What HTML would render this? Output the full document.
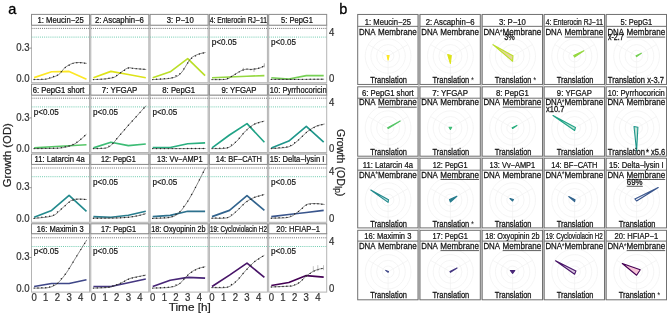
<!DOCTYPE html><html><head><meta charset="utf-8"><style>html,body{margin:0;padding:0;background:#fff;width:669px;height:317px;overflow:hidden}svg{display:block;will-change:transform}text{font-family:"Liberation Sans", sans-serif}</style></head><body>
<svg width="669" height="317" viewBox="0 0 669 317">
<rect width="669" height="317" fill="#fff"/>
<defs>
<clipPath id="ca0"><rect x="31.50" y="25.20" width="58.00" height="57.50"/></clipPath>
<clipPath id="sa0"><rect x="31.50" y="14.40" width="58.00" height="10.80"/></clipPath>
<clipPath id="ca1"><rect x="90.80" y="25.20" width="58.00" height="57.50"/></clipPath>
<clipPath id="sa1"><rect x="90.80" y="14.40" width="58.00" height="10.80"/></clipPath>
<clipPath id="ca2"><rect x="150.10" y="25.20" width="58.00" height="57.50"/></clipPath>
<clipPath id="sa2"><rect x="150.10" y="14.40" width="58.00" height="10.80"/></clipPath>
<clipPath id="ca3"><rect x="209.40" y="25.20" width="58.00" height="57.50"/></clipPath>
<clipPath id="sa3"><rect x="209.40" y="14.40" width="58.00" height="10.80"/></clipPath>
<clipPath id="ca4"><rect x="268.70" y="25.20" width="58.00" height="57.50"/></clipPath>
<clipPath id="sa4"><rect x="268.70" y="14.40" width="58.00" height="10.80"/></clipPath>
<clipPath id="ca5"><rect x="31.50" y="95.10" width="58.00" height="57.40"/></clipPath>
<clipPath id="sa5"><rect x="31.50" y="84.20" width="58.00" height="10.90"/></clipPath>
<clipPath id="ca6"><rect x="90.80" y="95.10" width="58.00" height="57.40"/></clipPath>
<clipPath id="sa6"><rect x="90.80" y="84.20" width="58.00" height="10.90"/></clipPath>
<clipPath id="ca7"><rect x="150.10" y="95.10" width="58.00" height="57.40"/></clipPath>
<clipPath id="sa7"><rect x="150.10" y="84.20" width="58.00" height="10.90"/></clipPath>
<clipPath id="ca8"><rect x="209.40" y="95.10" width="58.00" height="57.40"/></clipPath>
<clipPath id="sa8"><rect x="209.40" y="84.20" width="58.00" height="10.90"/></clipPath>
<clipPath id="ca9"><rect x="268.70" y="95.10" width="58.00" height="57.40"/></clipPath>
<clipPath id="sa9"><rect x="268.70" y="84.20" width="58.00" height="10.90"/></clipPath>
<clipPath id="ca10"><rect x="31.50" y="164.40" width="58.00" height="57.90"/></clipPath>
<clipPath id="sa10"><rect x="31.50" y="154.00" width="58.00" height="10.40"/></clipPath>
<clipPath id="ca11"><rect x="90.80" y="164.40" width="58.00" height="57.90"/></clipPath>
<clipPath id="sa11"><rect x="90.80" y="154.00" width="58.00" height="10.40"/></clipPath>
<clipPath id="ca12"><rect x="150.10" y="164.40" width="58.00" height="57.90"/></clipPath>
<clipPath id="sa12"><rect x="150.10" y="154.00" width="58.00" height="10.40"/></clipPath>
<clipPath id="ca13"><rect x="209.40" y="164.40" width="58.00" height="57.90"/></clipPath>
<clipPath id="sa13"><rect x="209.40" y="154.00" width="58.00" height="10.40"/></clipPath>
<clipPath id="ca14"><rect x="268.70" y="164.40" width="58.00" height="57.90"/></clipPath>
<clipPath id="sa14"><rect x="268.70" y="154.00" width="58.00" height="10.40"/></clipPath>
<clipPath id="ca15"><rect x="31.50" y="233.70" width="58.00" height="58.40"/></clipPath>
<clipPath id="sa15"><rect x="31.50" y="223.80" width="58.00" height="9.90"/></clipPath>
<clipPath id="ca16"><rect x="90.80" y="233.70" width="58.00" height="58.40"/></clipPath>
<clipPath id="sa16"><rect x="90.80" y="223.80" width="58.00" height="9.90"/></clipPath>
<clipPath id="ca17"><rect x="150.10" y="233.70" width="58.00" height="58.40"/></clipPath>
<clipPath id="sa17"><rect x="150.10" y="223.80" width="58.00" height="9.90"/></clipPath>
<clipPath id="ca18"><rect x="209.40" y="233.70" width="58.00" height="58.40"/></clipPath>
<clipPath id="sa18"><rect x="209.40" y="223.80" width="58.00" height="9.90"/></clipPath>
<clipPath id="ca19"><rect x="268.70" y="233.70" width="58.00" height="58.40"/></clipPath>
<clipPath id="sa19"><rect x="268.70" y="223.80" width="58.00" height="9.90"/></clipPath>
</defs>
<text x="8.2" y="14.2" font-size="14.5" fill="#000" stroke="#000" stroke-width="0.3">a</text>
<rect x="89.50" y="14.40" width="1.30" height="277.70" fill="#dadada"/>
<rect x="148.80" y="14.40" width="1.30" height="277.70" fill="#dadada"/>
<rect x="208.10" y="14.40" width="1.30" height="277.70" fill="#dadada"/>
<rect x="267.40" y="14.40" width="1.30" height="277.70" fill="#dadada"/>
<rect x="31.50" y="25.20" width="58.00" height="57.50" fill="#fff" stroke="#b4b4b4" stroke-width="1"/>
<rect x="31.50" y="14.40" width="58.00" height="10.80" fill="#fff" stroke="#8a8a8a" stroke-width="1"/>
<g clip-path="url(#sa0)"><text transform="translate(60.65,22.85) scale(1,1.15)" font-size="7.60" fill="#111" stroke="#111" stroke-width="0.2" text-anchor="middle" textLength="46.30" lengthAdjust="spacingAndGlyphs">1: Meucin−25</text></g>
<g clip-path="url(#ca0)"><line x1="31.50" y1="28.40" x2="89.50" y2="28.40" stroke="#444" stroke-width="0.8" stroke-dasharray="1 1.1"/><line x1="31.50" y1="37.10" x2="89.50" y2="37.10" stroke="#4cbf9c" stroke-width="0.8" stroke-dasharray="1 1.1"/><polyline points="34.10,77.60 51.60,71.70 69.10,71.40 86.50,79.30" fill="none" stroke="#FDE725" stroke-width="1.65" stroke-linejoin="round"/><path d="M34.10,79.50 C36.10,79.43 42.05,79.88 46.10,79.10 C50.15,78.32 55.25,76.72 58.40,74.80 C61.55,72.88 62.65,69.50 65.00,67.60 C67.35,65.70 70.15,64.25 72.50,63.40 C74.85,62.55 76.73,62.50 79.10,62.50 C81.47,62.50 85.43,63.25 86.70,63.40" fill="none" stroke="#3a3a3a" stroke-width="0.6"/><circle cx="34.10" cy="79.50" r="0.7" fill="#222"/><circle cx="37.99" cy="79.37" r="0.7" fill="#222"/><circle cx="41.88" cy="79.24" r="0.7" fill="#222"/><circle cx="45.77" cy="79.11" r="0.7" fill="#222"/><circle cx="49.66" cy="77.86" r="0.7" fill="#222"/><circle cx="53.55" cy="76.50" r="0.7" fill="#222"/><circle cx="57.44" cy="75.14" r="0.7" fill="#222"/><circle cx="61.33" cy="71.60" r="0.7" fill="#222"/><circle cx="65.22" cy="67.48" r="0.7" fill="#222"/><circle cx="69.11" cy="65.30" r="0.7" fill="#222"/><circle cx="73.00" cy="63.33" r="0.7" fill="#222"/><circle cx="76.89" cy="62.80" r="0.7" fill="#222"/><circle cx="80.78" cy="62.70" r="0.7" fill="#222"/><circle cx="84.67" cy="63.16" r="0.7" fill="#222"/></g>
<rect x="90.80" y="25.20" width="58.00" height="57.50" fill="#fff" stroke="#b4b4b4" stroke-width="1"/>
<rect x="90.80" y="14.40" width="58.00" height="10.80" fill="#fff" stroke="#8a8a8a" stroke-width="1"/>
<g clip-path="url(#sa1)"><text transform="translate(119.40,22.85) scale(1,1.15)" font-size="7.60" fill="#111" stroke="#111" stroke-width="0.2" text-anchor="middle" textLength="49.00" lengthAdjust="spacingAndGlyphs">2: Ascaphin−6</text></g>
<g clip-path="url(#ca1)"><line x1="90.80" y1="28.40" x2="148.80" y2="28.40" stroke="#444" stroke-width="0.8" stroke-dasharray="1 1.1"/><line x1="90.80" y1="37.10" x2="148.80" y2="37.10" stroke="#4cbf9c" stroke-width="0.8" stroke-dasharray="1 1.1"/><polyline points="93.40,77.70 110.90,71.40 128.40,74.50 145.80,77.70" fill="none" stroke="#DDE318" stroke-width="1.65" stroke-linejoin="round"/><path d="M93.40,79.60 C95.40,79.48 101.87,79.32 105.40,78.90 C108.93,78.48 112.12,78.10 114.60,77.10 C117.08,76.10 118.08,74.42 120.30,72.90 C122.52,71.38 125.38,68.72 127.90,68.00 C130.42,67.28 132.35,68.35 135.40,68.60 C138.45,68.85 144.40,69.35 146.20,69.50" fill="none" stroke="#3a3a3a" stroke-width="0.6"/><circle cx="93.40" cy="79.60" r="0.7" fill="#222"/><circle cx="97.29" cy="79.37" r="0.7" fill="#222"/><circle cx="101.18" cy="79.15" r="0.7" fill="#222"/><circle cx="105.07" cy="78.92" r="0.7" fill="#222"/><circle cx="108.96" cy="78.20" r="0.7" fill="#222"/><circle cx="112.85" cy="77.44" r="0.7" fill="#222"/><circle cx="116.74" cy="75.52" r="0.7" fill="#222"/><circle cx="120.63" cy="72.69" r="0.7" fill="#222"/><circle cx="124.52" cy="70.18" r="0.7" fill="#222"/><circle cx="128.41" cy="68.04" r="0.7" fill="#222"/><circle cx="132.30" cy="68.35" r="0.7" fill="#222"/><circle cx="136.19" cy="68.67" r="0.7" fill="#222"/><circle cx="140.08" cy="68.99" r="0.7" fill="#222"/><circle cx="143.97" cy="69.31" r="0.7" fill="#222"/></g>
<rect x="150.10" y="25.20" width="58.00" height="57.50" fill="#fff" stroke="#b4b4b4" stroke-width="1"/>
<rect x="150.10" y="14.40" width="58.00" height="10.80" fill="#fff" stroke="#8a8a8a" stroke-width="1"/>
<g clip-path="url(#sa2)"><text transform="translate(180.25,22.85) scale(1,1.15)" font-size="7.60" fill="#111" stroke="#111" stroke-width="0.2" text-anchor="middle" textLength="26.90" lengthAdjust="spacingAndGlyphs">3: P−10</text></g>
<g clip-path="url(#ca2)"><line x1="150.10" y1="28.40" x2="208.10" y2="28.40" stroke="#444" stroke-width="0.8" stroke-dasharray="1 1.1"/><line x1="150.10" y1="37.10" x2="208.10" y2="37.10" stroke="#4cbf9c" stroke-width="0.8" stroke-dasharray="1 1.1"/><polyline points="152.70,77.70 170.20,71.80 187.70,58.70 205.10,75.60" fill="none" stroke="#BADE28" stroke-width="1.65" stroke-linejoin="round"/><path d="M152.70,79.60 C155.82,79.35 166.70,79.15 171.40,78.10 C176.10,77.05 177.75,76.47 180.90,73.30 C184.05,70.13 187.47,62.25 190.30,59.10 C193.13,55.95 195.37,55.50 197.90,54.40 C200.43,53.30 204.23,52.82 205.50,52.50" fill="none" stroke="#3a3a3a" stroke-width="0.6"/><circle cx="152.70" cy="79.60" r="0.7" fill="#222"/><circle cx="156.59" cy="79.29" r="0.7" fill="#222"/><circle cx="160.48" cy="78.98" r="0.7" fill="#222"/><circle cx="164.37" cy="78.66" r="0.7" fill="#222"/><circle cx="168.26" cy="78.35" r="0.7" fill="#222"/><circle cx="172.15" cy="77.72" r="0.7" fill="#222"/><circle cx="176.04" cy="75.76" r="0.7" fill="#222"/><circle cx="179.93" cy="73.79" r="0.7" fill="#222"/><circle cx="183.82" cy="68.89" r="0.7" fill="#222"/><circle cx="187.71" cy="63.01" r="0.7" fill="#222"/><circle cx="191.60" cy="58.30" r="0.7" fill="#222"/><circle cx="195.49" cy="55.89" r="0.7" fill="#222"/><circle cx="199.38" cy="54.03" r="0.7" fill="#222"/><circle cx="203.27" cy="53.06" r="0.7" fill="#222"/></g>
<rect x="209.40" y="25.20" width="58.00" height="57.50" fill="#fff" stroke="#b4b4b4" stroke-width="1"/>
<rect x="209.40" y="14.40" width="58.00" height="10.80" fill="#fff" stroke="#8a8a8a" stroke-width="1"/>
<g clip-path="url(#sa3)"><text transform="translate(238.30,22.85) scale(1,1.15)" font-size="7.30" fill="#111" stroke="#111" stroke-width="0.2" text-anchor="middle" textLength="57.20" lengthAdjust="spacingAndGlyphs">4: Enterocin RJ−11</text></g>
<g clip-path="url(#ca3)"><line x1="209.40" y1="28.40" x2="267.40" y2="28.40" stroke="#444" stroke-width="0.8" stroke-dasharray="1 1.1"/><line x1="209.40" y1="37.10" x2="267.40" y2="37.10" stroke="#4cbf9c" stroke-width="0.8" stroke-dasharray="1 1.1"/><polyline points="212.00,77.70 229.50,77.00 247.00,76.30 264.40,75.60" fill="none" stroke="#95D840" stroke-width="1.65" stroke-linejoin="round"/><path d="M212.00,79.60 C214.33,79.55 222.70,79.85 226.00,79.30 C229.30,78.75 230.12,77.23 231.80,76.30 C233.48,75.37 234.68,74.55 236.10,73.70 C237.52,72.85 239.10,71.83 240.30,71.20 C241.50,70.57 242.17,70.25 243.30,69.90 C244.43,69.55 245.90,69.17 247.10,69.10 C248.30,69.03 249.35,69.50 250.50,69.50 C251.65,69.50 252.85,69.25 254.00,69.10 C255.15,68.95 256.27,68.85 257.40,68.60 C258.53,68.35 259.65,68.05 260.80,67.60 C261.95,67.15 263.72,66.18 264.30,65.90" fill="none" stroke="#3a3a3a" stroke-width="0.6"/><circle cx="212.00" cy="79.60" r="0.7" fill="#222"/><circle cx="215.89" cy="79.52" r="0.7" fill="#222"/><circle cx="219.78" cy="79.43" r="0.7" fill="#222"/><circle cx="223.67" cy="79.35" r="0.7" fill="#222"/><circle cx="227.56" cy="78.49" r="0.7" fill="#222"/><circle cx="231.45" cy="76.48" r="0.7" fill="#222"/><circle cx="235.34" cy="74.16" r="0.7" fill="#222"/><circle cx="239.23" cy="71.84" r="0.7" fill="#222"/><circle cx="243.12" cy="69.98" r="0.7" fill="#222"/><circle cx="247.01" cy="69.12" r="0.7" fill="#222"/><circle cx="250.90" cy="69.45" r="0.7" fill="#222"/><circle cx="254.79" cy="68.98" r="0.7" fill="#222"/><circle cx="258.68" cy="68.22" r="0.7" fill="#222"/><circle cx="262.57" cy="66.74" r="0.7" fill="#222"/><line x1="243.30" y1="67.80" x2="243.30" y2="70.80" stroke="#777" stroke-width="0.6"/><line x1="254.00" y1="68.30" x2="254.00" y2="71.80" stroke="#777" stroke-width="0.6"/><line x1="264.30" y1="63.30" x2="264.30" y2="67.30" stroke="#777" stroke-width="0.6"/><text transform="translate(211.70,45.00) scale(1,1.15)" font-size="8.1" fill="#111" stroke="#111" stroke-width="0.15">p&lt;0.05</text></g>
<rect x="268.70" y="25.20" width="58.00" height="57.50" fill="#fff" stroke="#b4b4b4" stroke-width="1"/>
<rect x="268.70" y="14.40" width="58.00" height="10.80" fill="#fff" stroke="#8a8a8a" stroke-width="1"/>
<g clip-path="url(#sa4)"><text transform="translate(297.00,22.85) scale(1,1.15)" font-size="7.60" fill="#111" stroke="#111" stroke-width="0.2" text-anchor="middle" textLength="31.80" lengthAdjust="spacingAndGlyphs">5: PepG1</text></g>
<g clip-path="url(#ca4)"><line x1="268.70" y1="28.40" x2="326.70" y2="28.40" stroke="#444" stroke-width="0.8" stroke-dasharray="1 1.1"/><line x1="268.70" y1="37.10" x2="326.70" y2="37.10" stroke="#4cbf9c" stroke-width="0.8" stroke-dasharray="1 1.1"/><polyline points="271.30,77.70 288.80,79.00 306.30,75.60 323.70,75.60" fill="none" stroke="#75D054" stroke-width="1.65" stroke-linejoin="round"/><path d="M271.30,79.40 C275.63,79.40 288.50,79.43 297.30,79.40 C306.10,79.37 319.63,79.23 324.10,79.20" fill="none" stroke="#3a3a3a" stroke-width="0.6"/><circle cx="271.30" cy="79.40" r="0.7" fill="#222"/><circle cx="275.19" cy="79.40" r="0.7" fill="#222"/><circle cx="279.08" cy="79.40" r="0.7" fill="#222"/><circle cx="282.97" cy="79.40" r="0.7" fill="#222"/><circle cx="286.86" cy="79.40" r="0.7" fill="#222"/><circle cx="290.75" cy="79.40" r="0.7" fill="#222"/><circle cx="294.64" cy="79.40" r="0.7" fill="#222"/><circle cx="298.53" cy="79.39" r="0.7" fill="#222"/><circle cx="302.42" cy="79.36" r="0.7" fill="#222"/><circle cx="306.31" cy="79.33" r="0.7" fill="#222"/><circle cx="310.20" cy="79.30" r="0.7" fill="#222"/><circle cx="314.09" cy="79.27" r="0.7" fill="#222"/><circle cx="317.98" cy="79.25" r="0.7" fill="#222"/><circle cx="321.87" cy="79.22" r="0.7" fill="#222"/><text transform="translate(271.00,45.00) scale(1,1.15)" font-size="8.1" fill="#111" stroke="#111" stroke-width="0.15">p&lt;0.05</text></g>
<text transform="translate(29.6,50.71) scale(1,1.18)" font-size="9.6" fill="#333" stroke="#333" stroke-width="0.2" text-anchor="end">0.3</text>
<text transform="translate(29.6,82.31) scale(1,1.18)" font-size="9.6" fill="#333" stroke="#333" stroke-width="0.2" text-anchor="end">0.0</text>
<line x1="29.6" y1="48.10" x2="31.5" y2="48.10" stroke="#666" stroke-width="0.7"/>
<text transform="translate(329.0,35.81) scale(1,1.18)" font-size="9.6" fill="#333" stroke="#333" stroke-width="0.2">4</text>
<text transform="translate(329.0,82.31) scale(1,1.18)" font-size="9.6" fill="#333" stroke="#333" stroke-width="0.2">0</text>
<rect x="31.50" y="95.10" width="58.00" height="57.40" fill="#fff" stroke="#b4b4b4" stroke-width="1"/>
<rect x="31.50" y="84.20" width="58.00" height="10.90" fill="#fff" stroke="#8a8a8a" stroke-width="1"/>
<g clip-path="url(#sa5)"><text transform="translate(58.65,92.70) scale(1,1.15)" font-size="7.60" fill="#111" stroke="#111" stroke-width="0.2" text-anchor="middle" textLength="51.70" lengthAdjust="spacingAndGlyphs">6: PepG1 short</text></g>
<g clip-path="url(#ca5)"><line x1="31.50" y1="98.20" x2="89.50" y2="98.20" stroke="#444" stroke-width="0.8" stroke-dasharray="1 1.1"/><line x1="31.50" y1="106.90" x2="89.50" y2="106.90" stroke="#4cbf9c" stroke-width="0.8" stroke-dasharray="1 1.1"/><polyline points="34.10,147.90 51.60,146.80 69.10,145.80 86.50,144.70" fill="none" stroke="#56C667" stroke-width="1.65" stroke-linejoin="round"/><path d="M34.10,148.60 C38.27,148.52 52.97,148.60 59.10,148.10 C65.23,147.60 67.73,146.68 70.90,145.60 C74.07,144.52 75.52,143.48 78.10,141.60 C80.68,139.72 85.02,135.52 86.40,134.30" fill="none" stroke="#3a3a3a" stroke-width="0.6"/><circle cx="34.10" cy="148.60" r="0.7" fill="#222"/><circle cx="37.99" cy="148.52" r="0.7" fill="#222"/><circle cx="41.88" cy="148.44" r="0.7" fill="#222"/><circle cx="45.77" cy="148.37" r="0.7" fill="#222"/><circle cx="49.66" cy="148.29" r="0.7" fill="#222"/><circle cx="53.55" cy="148.21" r="0.7" fill="#222"/><circle cx="57.44" cy="148.13" r="0.7" fill="#222"/><circle cx="61.33" cy="147.63" r="0.7" fill="#222"/><circle cx="65.22" cy="146.80" r="0.7" fill="#222"/><circle cx="69.11" cy="145.98" r="0.7" fill="#222"/><circle cx="73.00" cy="144.43" r="0.7" fill="#222"/><circle cx="76.89" cy="142.27" r="0.7" fill="#222"/><circle cx="80.78" cy="139.24" r="0.7" fill="#222"/><circle cx="84.67" cy="135.82" r="0.7" fill="#222"/><text transform="translate(33.80,114.80) scale(1,1.15)" font-size="8.1" fill="#111" stroke="#111" stroke-width="0.15">p&lt;0.05</text></g>
<rect x="90.80" y="95.10" width="58.00" height="57.40" fill="#fff" stroke="#b4b4b4" stroke-width="1"/>
<rect x="90.80" y="84.20" width="58.00" height="10.90" fill="#fff" stroke="#8a8a8a" stroke-width="1"/>
<g clip-path="url(#sa6)"><text transform="translate(119.50,92.70) scale(1,1.15)" font-size="7.60" fill="#111" stroke="#111" stroke-width="0.2" text-anchor="middle" textLength="35.60" lengthAdjust="spacingAndGlyphs">7: YFGAP</text></g>
<g clip-path="url(#ca6)"><line x1="90.80" y1="98.20" x2="148.80" y2="98.20" stroke="#444" stroke-width="0.8" stroke-dasharray="1 1.1"/><line x1="90.80" y1="106.90" x2="148.80" y2="106.90" stroke="#4cbf9c" stroke-width="0.8" stroke-dasharray="1 1.1"/><polyline points="93.40,147.90 110.90,142.20 128.40,145.60 145.80,144.00" fill="none" stroke="#3CBC75" stroke-width="1.65" stroke-linejoin="round"/><path d="M93.40,148.60 C95.40,148.52 102.40,148.68 105.40,148.10 C108.40,147.52 109.13,147.10 111.40,145.10 C113.67,143.10 116.17,139.40 119.00,136.10 C121.83,132.80 125.40,128.68 128.40,125.30 C131.40,121.92 134.07,119.07 137.00,115.80 C139.93,112.53 144.50,107.38 146.00,105.70" fill="none" stroke="#3a3a3a" stroke-width="0.6"/><circle cx="93.40" cy="148.60" r="0.7" fill="#222"/><circle cx="97.29" cy="148.44" r="0.7" fill="#222"/><circle cx="101.18" cy="148.28" r="0.7" fill="#222"/><circle cx="105.07" cy="148.11" r="0.7" fill="#222"/><circle cx="108.96" cy="146.32" r="0.7" fill="#222"/><circle cx="112.85" cy="143.38" r="0.7" fill="#222"/><circle cx="116.74" cy="138.78" r="0.7" fill="#222"/><circle cx="120.63" cy="134.23" r="0.7" fill="#222"/><circle cx="124.52" cy="129.76" r="0.7" fill="#222"/><circle cx="128.41" cy="125.29" r="0.7" fill="#222"/><circle cx="132.30" cy="120.99" r="0.7" fill="#222"/><circle cx="136.19" cy="116.69" r="0.7" fill="#222"/><circle cx="140.08" cy="112.34" r="0.7" fill="#222"/><circle cx="143.97" cy="107.98" r="0.7" fill="#222"/><text transform="translate(93.10,114.80) scale(1,1.15)" font-size="8.1" fill="#111" stroke="#111" stroke-width="0.15">p&lt;0.05</text></g>
<rect x="150.10" y="95.10" width="58.00" height="57.40" fill="#fff" stroke="#b4b4b4" stroke-width="1"/>
<rect x="150.10" y="84.20" width="58.00" height="10.90" fill="#fff" stroke="#8a8a8a" stroke-width="1"/>
<g clip-path="url(#sa7)"><text transform="translate(178.65,92.70) scale(1,1.15)" font-size="7.60" fill="#111" stroke="#111" stroke-width="0.2" text-anchor="middle" textLength="32.70" lengthAdjust="spacingAndGlyphs">8: PepG1</text></g>
<g clip-path="url(#ca7)"><line x1="150.10" y1="98.20" x2="208.10" y2="98.20" stroke="#444" stroke-width="0.8" stroke-dasharray="1 1.1"/><line x1="150.10" y1="106.90" x2="208.10" y2="106.90" stroke="#4cbf9c" stroke-width="0.8" stroke-dasharray="1 1.1"/><polyline points="152.70,147.50 170.20,147.50 187.70,143.80 205.10,142.90" fill="none" stroke="#29AF7F" stroke-width="1.65" stroke-linejoin="round"/><path d="M152.70,148.60 C157.03,148.60 169.90,148.62 178.70,148.60 C187.50,148.58 201.03,148.52 205.50,148.50" fill="none" stroke="#3a3a3a" stroke-width="0.6"/><circle cx="152.70" cy="148.60" r="0.7" fill="#222"/><circle cx="156.59" cy="148.60" r="0.7" fill="#222"/><circle cx="160.48" cy="148.60" r="0.7" fill="#222"/><circle cx="164.37" cy="148.60" r="0.7" fill="#222"/><circle cx="168.26" cy="148.60" r="0.7" fill="#222"/><circle cx="172.15" cy="148.60" r="0.7" fill="#222"/><circle cx="176.04" cy="148.60" r="0.7" fill="#222"/><circle cx="179.93" cy="148.60" r="0.7" fill="#222"/><circle cx="183.82" cy="148.58" r="0.7" fill="#222"/><circle cx="187.71" cy="148.57" r="0.7" fill="#222"/><circle cx="191.60" cy="148.55" r="0.7" fill="#222"/><circle cx="195.49" cy="148.54" r="0.7" fill="#222"/><circle cx="199.38" cy="148.52" r="0.7" fill="#222"/><circle cx="203.27" cy="148.51" r="0.7" fill="#222"/><text transform="translate(152.40,114.80) scale(1,1.15)" font-size="8.1" fill="#111" stroke="#111" stroke-width="0.15">p&lt;0.05</text></g>
<rect x="209.40" y="95.10" width="58.00" height="57.40" fill="#fff" stroke="#b4b4b4" stroke-width="1"/>
<rect x="209.40" y="84.20" width="58.00" height="10.90" fill="#fff" stroke="#8a8a8a" stroke-width="1"/>
<g clip-path="url(#sa8)"><text transform="translate(239.00,92.70) scale(1,1.15)" font-size="7.60" fill="#111" stroke="#111" stroke-width="0.2" text-anchor="middle" textLength="35.00" lengthAdjust="spacingAndGlyphs">9: YFGAP</text></g>
<g clip-path="url(#ca8)"><line x1="209.40" y1="98.20" x2="267.40" y2="98.20" stroke="#444" stroke-width="0.8" stroke-dasharray="1 1.1"/><line x1="209.40" y1="106.90" x2="267.40" y2="106.90" stroke="#4cbf9c" stroke-width="0.8" stroke-dasharray="1 1.1"/><polyline points="212.00,147.90 229.50,135.00 247.00,123.60 264.40,142.20" fill="none" stroke="#20A386" stroke-width="1.65" stroke-linejoin="round"/><path d="M212.00,148.60 C214.57,148.48 223.32,149.08 227.40,147.90 C231.48,146.72 233.47,144.33 236.50,141.50 C239.53,138.67 242.57,133.82 245.60,130.90 C248.63,127.98 251.58,125.63 254.70,124.00 C257.82,122.37 262.70,121.58 264.30,121.10" fill="none" stroke="#3a3a3a" stroke-width="0.6"/><circle cx="212.00" cy="148.60" r="0.7" fill="#222"/><circle cx="215.89" cy="148.42" r="0.7" fill="#222"/><circle cx="219.78" cy="148.25" r="0.7" fill="#222"/><circle cx="223.67" cy="148.07" r="0.7" fill="#222"/><circle cx="227.56" cy="147.79" r="0.7" fill="#222"/><circle cx="231.45" cy="145.05" r="0.7" fill="#222"/><circle cx="235.34" cy="142.32" r="0.7" fill="#222"/><circle cx="239.23" cy="138.32" r="0.7" fill="#222"/><circle cx="243.12" cy="133.79" r="0.7" fill="#222"/><circle cx="247.01" cy="129.83" r="0.7" fill="#222"/><circle cx="250.90" cy="126.88" r="0.7" fill="#222"/><circle cx="254.79" cy="123.97" r="0.7" fill="#222"/><circle cx="258.68" cy="122.80" r="0.7" fill="#222"/><circle cx="262.57" cy="121.62" r="0.7" fill="#222"/></g>
<rect x="268.70" y="95.10" width="58.00" height="57.40" fill="#fff" stroke="#b4b4b4" stroke-width="1"/>
<rect x="268.70" y="84.20" width="58.00" height="10.90" fill="#fff" stroke="#8a8a8a" stroke-width="1"/>
<g clip-path="url(#sa9)"><text transform="translate(298.20,92.70) scale(1,1.15)" font-size="7.60" fill="#111" stroke="#111" stroke-width="0.2" text-anchor="middle" textLength="57.00" lengthAdjust="spacingAndGlyphs">10: Pyrrhocoricin</text></g>
<g clip-path="url(#ca9)"><line x1="268.70" y1="98.20" x2="326.70" y2="98.20" stroke="#444" stroke-width="0.8" stroke-dasharray="1 1.1"/><line x1="268.70" y1="106.90" x2="326.70" y2="106.90" stroke="#4cbf9c" stroke-width="0.8" stroke-dasharray="1 1.1"/><polyline points="271.30,147.90 288.80,141.10 306.30,126.30 323.70,142.20" fill="none" stroke="#1F968B" stroke-width="1.65" stroke-linejoin="round"/><path d="M271.30,148.60 C274.20,148.30 284.28,148.13 288.70,146.80 C293.12,145.47 294.77,143.07 297.80,140.60 C300.83,138.13 303.87,134.38 306.90,132.00 C309.93,129.62 313.05,127.63 316.00,126.30 C318.95,124.97 323.17,124.38 324.60,124.00" fill="none" stroke="#3a3a3a" stroke-width="0.6"/><circle cx="271.30" cy="148.60" r="0.7" fill="#222"/><circle cx="275.19" cy="148.20" r="0.7" fill="#222"/><circle cx="279.08" cy="147.80" r="0.7" fill="#222"/><circle cx="282.97" cy="147.39" r="0.7" fill="#222"/><circle cx="286.86" cy="146.99" r="0.7" fill="#222"/><circle cx="290.75" cy="145.40" r="0.7" fill="#222"/><circle cx="294.64" cy="142.75" r="0.7" fill="#222"/><circle cx="298.53" cy="139.91" r="0.7" fill="#222"/><circle cx="302.42" cy="136.23" r="0.7" fill="#222"/><circle cx="306.31" cy="132.56" r="0.7" fill="#222"/><circle cx="310.20" cy="129.93" r="0.7" fill="#222"/><circle cx="314.09" cy="127.50" r="0.7" fill="#222"/><circle cx="317.98" cy="125.77" r="0.7" fill="#222"/><circle cx="321.87" cy="124.73" r="0.7" fill="#222"/></g>
<text transform="translate(29.6,120.51) scale(1,1.18)" font-size="9.6" fill="#333" stroke="#333" stroke-width="0.2" text-anchor="end">0.3</text>
<text transform="translate(29.6,152.11) scale(1,1.18)" font-size="9.6" fill="#333" stroke="#333" stroke-width="0.2" text-anchor="end">0.0</text>
<line x1="29.6" y1="117.90" x2="31.5" y2="117.90" stroke="#666" stroke-width="0.7"/>
<text transform="translate(329.0,105.61) scale(1,1.18)" font-size="9.6" fill="#333" stroke="#333" stroke-width="0.2">4</text>
<text transform="translate(329.0,152.11) scale(1,1.18)" font-size="9.6" fill="#333" stroke="#333" stroke-width="0.2">0</text>
<rect x="31.50" y="164.40" width="58.00" height="57.90" fill="#fff" stroke="#b4b4b4" stroke-width="1"/>
<rect x="31.50" y="154.00" width="58.00" height="10.40" fill="#fff" stroke="#8a8a8a" stroke-width="1"/>
<g clip-path="url(#sa10)"><text transform="translate(59.60,162.25) scale(1,1.15)" font-size="7.60" fill="#111" stroke="#111" stroke-width="0.2" text-anchor="middle" textLength="50.20" lengthAdjust="spacingAndGlyphs">11: Latarcin 4a</text></g>
<g clip-path="url(#ca10)"><line x1="31.50" y1="168.00" x2="89.50" y2="168.00" stroke="#444" stroke-width="0.8" stroke-dasharray="1 1.1"/><line x1="31.50" y1="176.70" x2="89.50" y2="176.70" stroke="#4cbf9c" stroke-width="0.8" stroke-dasharray="1 1.1"/><polyline points="34.10,217.30 51.60,210.40 69.10,195.40 86.50,211.30" fill="none" stroke="#238A8D" stroke-width="1.65" stroke-linejoin="round"/><path d="M34.10,218.40 C37.20,217.97 48.08,217.43 52.70,215.80 C57.32,214.17 58.77,211.12 61.80,208.60 C64.83,206.08 68.25,202.28 70.90,200.70 C73.55,199.12 75.05,199.30 77.70,199.10 C80.35,198.90 85.28,199.43 86.80,199.50" fill="none" stroke="#3a3a3a" stroke-width="0.6"/><circle cx="34.10" cy="218.40" r="0.7" fill="#222"/><circle cx="37.99" cy="217.86" r="0.7" fill="#222"/><circle cx="41.88" cy="217.31" r="0.7" fill="#222"/><circle cx="45.77" cy="216.77" r="0.7" fill="#222"/><circle cx="49.66" cy="216.22" r="0.7" fill="#222"/><circle cx="53.55" cy="215.13" r="0.7" fill="#222"/><circle cx="57.44" cy="212.05" r="0.7" fill="#222"/><circle cx="61.33" cy="208.97" r="0.7" fill="#222"/><circle cx="65.22" cy="205.63" r="0.7" fill="#222"/><circle cx="69.11" cy="202.25" r="0.7" fill="#222"/><circle cx="73.00" cy="200.21" r="0.7" fill="#222"/><circle cx="76.89" cy="199.29" r="0.7" fill="#222"/><circle cx="80.78" cy="199.24" r="0.7" fill="#222"/><circle cx="84.67" cy="199.41" r="0.7" fill="#222"/></g>
<rect x="90.80" y="164.40" width="58.00" height="57.90" fill="#fff" stroke="#b4b4b4" stroke-width="1"/>
<rect x="90.80" y="154.00" width="58.00" height="10.40" fill="#fff" stroke="#8a8a8a" stroke-width="1"/>
<g clip-path="url(#sa11)"><text transform="translate(118.35,162.25) scale(1,1.15)" font-size="7.60" fill="#111" stroke="#111" stroke-width="0.2" text-anchor="middle" textLength="34.90" lengthAdjust="spacingAndGlyphs">12: PepG1</text></g>
<g clip-path="url(#ca11)"><line x1="90.80" y1="168.00" x2="148.80" y2="168.00" stroke="#444" stroke-width="0.8" stroke-dasharray="1 1.1"/><line x1="90.80" y1="176.70" x2="148.80" y2="176.70" stroke="#4cbf9c" stroke-width="0.8" stroke-dasharray="1 1.1"/><polyline points="93.40,216.60 110.90,217.30 128.40,215.30 145.80,211.30" fill="none" stroke="#287D8E" stroke-width="1.65" stroke-linejoin="round"/><path d="M93.40,218.20 C96.73,218.18 107.68,218.25 113.40,218.10 C119.12,217.95 123.70,217.67 127.70,217.30 C131.70,216.93 134.37,216.52 137.40,215.90 C140.43,215.28 144.48,213.98 145.90,213.60" fill="none" stroke="#3a3a3a" stroke-width="0.6"/><circle cx="93.40" cy="218.20" r="0.7" fill="#222"/><circle cx="97.29" cy="218.18" r="0.7" fill="#222"/><circle cx="101.18" cy="218.16" r="0.7" fill="#222"/><circle cx="105.07" cy="218.14" r="0.7" fill="#222"/><circle cx="108.96" cy="218.12" r="0.7" fill="#222"/><circle cx="112.85" cy="218.10" r="0.7" fill="#222"/><circle cx="116.74" cy="217.91" r="0.7" fill="#222"/><circle cx="120.63" cy="217.70" r="0.7" fill="#222"/><circle cx="124.52" cy="217.48" r="0.7" fill="#222"/><circle cx="128.41" cy="217.20" r="0.7" fill="#222"/><circle cx="132.30" cy="216.64" r="0.7" fill="#222"/><circle cx="136.19" cy="216.07" r="0.7" fill="#222"/><circle cx="140.08" cy="215.17" r="0.7" fill="#222"/><circle cx="143.97" cy="214.12" r="0.7" fill="#222"/><text transform="translate(93.10,184.60) scale(1,1.15)" font-size="8.1" fill="#111" stroke="#111" stroke-width="0.15">p&lt;0.05</text></g>
<rect x="150.10" y="164.40" width="58.00" height="57.90" fill="#fff" stroke="#b4b4b4" stroke-width="1"/>
<rect x="150.10" y="154.00" width="58.00" height="10.40" fill="#fff" stroke="#8a8a8a" stroke-width="1"/>
<g clip-path="url(#sa12)"><text transform="translate(179.85,162.25) scale(1,1.15)" font-size="7.60" fill="#111" stroke="#111" stroke-width="0.2" text-anchor="middle" textLength="45.70" lengthAdjust="spacingAndGlyphs">13: Vv−AMP1</text></g>
<g clip-path="url(#ca12)"><line x1="150.10" y1="168.00" x2="208.10" y2="168.00" stroke="#444" stroke-width="0.8" stroke-dasharray="1 1.1"/><line x1="150.10" y1="176.70" x2="208.10" y2="176.70" stroke="#4cbf9c" stroke-width="0.8" stroke-dasharray="1 1.1"/><polyline points="152.70,216.60 170.20,215.40 187.70,211.30 205.10,211.30" fill="none" stroke="#2D718E" stroke-width="1.65" stroke-linejoin="round"/><path d="M152.70,218.40 C155.70,218.22 166.18,218.37 170.70,217.30 C175.22,216.23 176.77,214.97 179.80,212.00 C182.83,209.03 186.05,204.03 188.90,199.50 C191.75,194.97 194.17,190.02 196.90,184.80 C199.63,179.58 203.90,170.97 205.30,168.20" fill="none" stroke="#3a3a3a" stroke-width="0.6"/><circle cx="152.70" cy="218.40" r="0.7" fill="#222"/><circle cx="156.59" cy="218.16" r="0.7" fill="#222"/><circle cx="160.48" cy="217.92" r="0.7" fill="#222"/><circle cx="164.37" cy="217.69" r="0.7" fill="#222"/><circle cx="168.26" cy="217.45" r="0.7" fill="#222"/><circle cx="172.15" cy="216.46" r="0.7" fill="#222"/><circle cx="176.04" cy="214.19" r="0.7" fill="#222"/><circle cx="179.93" cy="211.82" r="0.7" fill="#222"/><circle cx="183.82" cy="206.48" r="0.7" fill="#222"/><circle cx="187.71" cy="201.13" r="0.7" fill="#222"/><circle cx="191.60" cy="194.54" r="0.7" fill="#222"/><circle cx="195.49" cy="187.39" r="0.7" fill="#222"/><circle cx="199.38" cy="179.90" r="0.7" fill="#222"/><circle cx="203.27" cy="172.21" r="0.7" fill="#222"/><text transform="translate(152.40,184.60) scale(1,1.15)" font-size="8.1" fill="#111" stroke="#111" stroke-width="0.15">p&lt;0.05</text></g>
<rect x="209.40" y="164.40" width="58.00" height="57.90" fill="#fff" stroke="#b4b4b4" stroke-width="1"/>
<rect x="209.40" y="154.00" width="58.00" height="10.40" fill="#fff" stroke="#8a8a8a" stroke-width="1"/>
<g clip-path="url(#sa13)"><text transform="translate(238.85,162.25) scale(1,1.15)" font-size="7.60" fill="#111" stroke="#111" stroke-width="0.2" text-anchor="middle" textLength="46.10" lengthAdjust="spacingAndGlyphs">14: BF−CATH</text></g>
<g clip-path="url(#ca13)"><line x1="209.40" y1="168.00" x2="267.40" y2="168.00" stroke="#444" stroke-width="0.8" stroke-dasharray="1 1.1"/><line x1="209.40" y1="176.70" x2="267.40" y2="176.70" stroke="#4cbf9c" stroke-width="0.8" stroke-dasharray="1 1.1"/><polyline points="212.00,216.60 229.50,210.40 247.00,195.70 264.40,210.40" fill="none" stroke="#32648E" stroke-width="1.65" stroke-linejoin="round"/><path d="M212.00,218.20 C214.57,218.12 223.32,218.85 227.40,217.70 C231.48,216.55 233.47,213.87 236.50,211.30 C239.53,208.73 242.57,204.63 245.60,202.30 C248.63,199.97 251.58,198.60 254.70,197.30 C257.82,196.00 262.70,194.97 264.30,194.50" fill="none" stroke="#3a3a3a" stroke-width="0.6"/><circle cx="212.00" cy="218.20" r="0.7" fill="#222"/><circle cx="215.89" cy="218.07" r="0.7" fill="#222"/><circle cx="219.78" cy="217.95" r="0.7" fill="#222"/><circle cx="223.67" cy="217.82" r="0.7" fill="#222"/><circle cx="227.56" cy="217.59" r="0.7" fill="#222"/><circle cx="231.45" cy="214.85" r="0.7" fill="#222"/><circle cx="235.34" cy="212.12" r="0.7" fill="#222"/><circle cx="239.23" cy="208.60" r="0.7" fill="#222"/><circle cx="243.12" cy="204.75" r="0.7" fill="#222"/><circle cx="247.01" cy="201.53" r="0.7" fill="#222"/><circle cx="250.90" cy="199.39" r="0.7" fill="#222"/><circle cx="254.79" cy="197.27" r="0.7" fill="#222"/><circle cx="258.68" cy="196.14" r="0.7" fill="#222"/><circle cx="262.57" cy="195.00" r="0.7" fill="#222"/></g>
<rect x="268.70" y="164.40" width="58.00" height="57.90" fill="#fff" stroke="#b4b4b4" stroke-width="1"/>
<rect x="268.70" y="154.00" width="58.00" height="10.40" fill="#fff" stroke="#8a8a8a" stroke-width="1"/>
<g clip-path="url(#sa14)"><text transform="translate(297.05,162.25) scale(1,1.15)" font-size="7.60" fill="#111" stroke="#111" stroke-width="0.2" text-anchor="middle" textLength="54.70" lengthAdjust="spacingAndGlyphs">15: Delta−lysin I</text></g>
<g clip-path="url(#ca14)"><line x1="268.70" y1="168.00" x2="326.70" y2="168.00" stroke="#444" stroke-width="0.8" stroke-dasharray="1 1.1"/><line x1="268.70" y1="176.70" x2="326.70" y2="176.70" stroke="#4cbf9c" stroke-width="0.8" stroke-dasharray="1 1.1"/><polyline points="271.30,216.60 288.80,214.50 306.30,212.50 323.70,210.40" fill="none" stroke="#39558C" stroke-width="1.65" stroke-linejoin="round"/><path d="M271.30,218.20 C274.20,218.05 284.28,218.33 288.70,217.30 C293.12,216.27 294.77,214.13 297.80,212.00 C300.83,209.87 303.87,205.90 306.90,204.50 C309.93,203.10 313.05,203.60 316.00,203.60 C318.95,203.60 323.17,204.35 324.60,204.50" fill="none" stroke="#3a3a3a" stroke-width="0.6"/><circle cx="271.30" cy="218.20" r="0.7" fill="#222"/><circle cx="275.19" cy="218.00" r="0.7" fill="#222"/><circle cx="279.08" cy="217.80" r="0.7" fill="#222"/><circle cx="282.97" cy="217.60" r="0.7" fill="#222"/><circle cx="286.86" cy="217.40" r="0.7" fill="#222"/><circle cx="290.75" cy="216.11" r="0.7" fill="#222"/><circle cx="294.64" cy="213.84" r="0.7" fill="#222"/><circle cx="298.53" cy="211.40" r="0.7" fill="#222"/><circle cx="302.42" cy="208.19" r="0.7" fill="#222"/><circle cx="306.31" cy="204.99" r="0.7" fill="#222"/><circle cx="310.20" cy="204.17" r="0.7" fill="#222"/><circle cx="314.09" cy="203.79" r="0.7" fill="#222"/><circle cx="317.98" cy="203.81" r="0.7" fill="#222"/><circle cx="321.87" cy="204.21" r="0.7" fill="#222"/><text transform="translate(271.00,184.60) scale(1,1.15)" font-size="8.1" fill="#111" stroke="#111" stroke-width="0.15">p&lt;0.05</text></g>
<text transform="translate(29.6,190.31) scale(1,1.18)" font-size="9.6" fill="#333" stroke="#333" stroke-width="0.2" text-anchor="end">0.3</text>
<text transform="translate(29.6,221.91) scale(1,1.18)" font-size="9.6" fill="#333" stroke="#333" stroke-width="0.2" text-anchor="end">0.0</text>
<line x1="29.6" y1="187.70" x2="31.5" y2="187.70" stroke="#666" stroke-width="0.7"/>
<text transform="translate(329.0,175.41) scale(1,1.18)" font-size="9.6" fill="#333" stroke="#333" stroke-width="0.2">4</text>
<text transform="translate(329.0,221.91) scale(1,1.18)" font-size="9.6" fill="#333" stroke="#333" stroke-width="0.2">0</text>
<rect x="31.50" y="233.70" width="58.00" height="58.40" fill="#fff" stroke="#b4b4b4" stroke-width="1"/>
<rect x="31.50" y="223.80" width="58.00" height="9.90" fill="#fff" stroke="#8a8a8a" stroke-width="1"/>
<g clip-path="url(#sa15)"><text transform="translate(60.30,231.80) scale(1,1.15)" font-size="7.60" fill="#111" stroke="#111" stroke-width="0.2" text-anchor="middle" textLength="47.00" lengthAdjust="spacingAndGlyphs">16: Maximin 3</text></g>
<g clip-path="url(#ca15)"><line x1="31.50" y1="237.80" x2="89.50" y2="237.80" stroke="#444" stroke-width="0.8" stroke-dasharray="1 1.1"/><line x1="31.50" y1="246.50" x2="89.50" y2="246.50" stroke="#4cbf9c" stroke-width="0.8" stroke-dasharray="1 1.1"/><polyline points="34.10,286.50 51.60,283.50 69.10,283.50 86.50,279.70" fill="none" stroke="#3F4788" stroke-width="1.65" stroke-linejoin="round"/><path d="M34.10,288.10 C36.45,288.02 44.33,288.37 48.20,287.60 C52.07,286.83 54.27,285.97 57.30,283.50 C60.33,281.03 63.37,277.03 66.40,272.80 C69.43,268.57 72.10,263.58 75.50,258.10 C78.90,252.62 84.92,242.93 86.80,239.90" fill="none" stroke="#3a3a3a" stroke-width="0.6"/><circle cx="34.10" cy="288.10" r="0.7" fill="#222"/><circle cx="37.99" cy="287.96" r="0.7" fill="#222"/><circle cx="41.88" cy="287.82" r="0.7" fill="#222"/><circle cx="45.77" cy="287.69" r="0.7" fill="#222"/><circle cx="49.66" cy="286.94" r="0.7" fill="#222"/><circle cx="53.55" cy="285.19" r="0.7" fill="#222"/><circle cx="57.44" cy="283.34" r="0.7" fill="#222"/><circle cx="61.33" cy="278.76" r="0.7" fill="#222"/><circle cx="65.22" cy="274.19" r="0.7" fill="#222"/><circle cx="69.11" cy="268.42" r="0.7" fill="#222"/><circle cx="73.00" cy="262.14" r="0.7" fill="#222"/><circle cx="76.89" cy="255.86" r="0.7" fill="#222"/><circle cx="80.78" cy="249.60" r="0.7" fill="#222"/><circle cx="84.67" cy="243.33" r="0.7" fill="#222"/><text transform="translate(33.80,254.40) scale(1,1.15)" font-size="8.1" fill="#111" stroke="#111" stroke-width="0.15">p&lt;0.05</text></g>
<rect x="90.80" y="233.70" width="58.00" height="58.40" fill="#fff" stroke="#b4b4b4" stroke-width="1"/>
<rect x="90.80" y="223.80" width="58.00" height="9.90" fill="#fff" stroke="#8a8a8a" stroke-width="1"/>
<g clip-path="url(#sa16)"><text transform="translate(118.55,231.80) scale(1,1.15)" font-size="7.60" fill="#111" stroke="#111" stroke-width="0.2" text-anchor="middle" textLength="35.30" lengthAdjust="spacingAndGlyphs">17: PepG1</text></g>
<g clip-path="url(#ca16)"><line x1="90.80" y1="237.80" x2="148.80" y2="237.80" stroke="#444" stroke-width="0.8" stroke-dasharray="1 1.1"/><line x1="90.80" y1="246.50" x2="148.80" y2="246.50" stroke="#4cbf9c" stroke-width="0.8" stroke-dasharray="1 1.1"/><polyline points="93.40,286.50 110.90,286.50 128.40,282.80 145.80,279.00" fill="none" stroke="#453781" stroke-width="1.65" stroke-linejoin="round"/><path d="M93.40,288.10 C96.08,287.95 104.92,288.03 109.50,287.20 C114.08,286.37 117.48,284.55 120.90,283.10 C124.32,281.65 125.83,279.83 130.00,278.50 C134.17,277.17 143.25,275.67 145.90,275.10" fill="none" stroke="#3a3a3a" stroke-width="0.6"/><circle cx="93.40" cy="288.10" r="0.7" fill="#222"/><circle cx="97.29" cy="287.88" r="0.7" fill="#222"/><circle cx="101.18" cy="287.67" r="0.7" fill="#222"/><circle cx="105.07" cy="287.45" r="0.7" fill="#222"/><circle cx="108.96" cy="287.23" r="0.7" fill="#222"/><circle cx="112.85" cy="286.00" r="0.7" fill="#222"/><circle cx="116.74" cy="284.60" r="0.7" fill="#222"/><circle cx="120.63" cy="283.20" r="0.7" fill="#222"/><circle cx="124.52" cy="281.27" r="0.7" fill="#222"/><circle cx="128.41" cy="279.30" r="0.7" fill="#222"/><circle cx="132.30" cy="278.01" r="0.7" fill="#222"/><circle cx="136.19" cy="277.18" r="0.7" fill="#222"/><circle cx="140.08" cy="276.34" r="0.7" fill="#222"/><circle cx="143.97" cy="275.51" r="0.7" fill="#222"/><text transform="translate(93.10,254.40) scale(1,1.15)" font-size="8.1" fill="#111" stroke="#111" stroke-width="0.15">p&lt;0.05</text></g>
<rect x="150.10" y="233.70" width="58.00" height="58.40" fill="#fff" stroke="#b4b4b4" stroke-width="1"/>
<rect x="150.10" y="223.80" width="58.00" height="9.90" fill="#fff" stroke="#8a8a8a" stroke-width="1"/>
<g clip-path="url(#sa17)"><text transform="translate(178.40,231.80) scale(1,1.15)" font-size="7.60" fill="#111" stroke="#111" stroke-width="0.2" text-anchor="middle" textLength="54.20" lengthAdjust="spacingAndGlyphs">18: Oxyopinin 2b</text></g>
<g clip-path="url(#ca17)"><line x1="150.10" y1="237.80" x2="208.10" y2="237.80" stroke="#444" stroke-width="0.8" stroke-dasharray="1 1.1"/><line x1="150.10" y1="246.50" x2="208.10" y2="246.50" stroke="#4cbf9c" stroke-width="0.8" stroke-dasharray="1 1.1"/><polyline points="152.70,286.50 170.20,280.30 187.70,277.40 205.10,278.10" fill="none" stroke="#482677" stroke-width="1.65" stroke-linejoin="round"/><path d="M152.70,288.10 C155.70,287.95 166.18,287.97 170.70,287.20 C175.22,286.43 176.77,285.70 179.80,283.50 C182.83,281.30 186.05,276.42 188.90,274.00 C191.75,271.58 194.17,270.22 196.90,269.00 C199.63,267.78 203.90,267.08 205.30,266.70" fill="none" stroke="#3a3a3a" stroke-width="0.6"/><circle cx="152.70" cy="288.10" r="0.7" fill="#222"/><circle cx="156.59" cy="287.91" r="0.7" fill="#222"/><circle cx="160.48" cy="287.71" r="0.7" fill="#222"/><circle cx="164.37" cy="287.52" r="0.7" fill="#222"/><circle cx="168.26" cy="287.32" r="0.7" fill="#222"/><circle cx="172.15" cy="286.61" r="0.7" fill="#222"/><circle cx="176.04" cy="285.03" r="0.7" fill="#222"/><circle cx="179.93" cy="283.36" r="0.7" fill="#222"/><circle cx="183.82" cy="279.30" r="0.7" fill="#222"/><circle cx="187.71" cy="275.24" r="0.7" fill="#222"/><circle cx="191.60" cy="272.31" r="0.7" fill="#222"/><circle cx="195.49" cy="269.88" r="0.7" fill="#222"/><circle cx="199.38" cy="268.32" r="0.7" fill="#222"/><circle cx="203.27" cy="267.26" r="0.7" fill="#222"/></g>
<rect x="209.40" y="233.70" width="58.00" height="58.40" fill="#fff" stroke="#b4b4b4" stroke-width="1"/>
<rect x="209.40" y="223.80" width="58.00" height="9.90" fill="#fff" stroke="#8a8a8a" stroke-width="1"/>
<g clip-path="url(#sa18)"><text transform="translate(238.40,231.80) scale(1,1.15)" font-size="7.30" fill="#111" stroke="#111" stroke-width="0.2" text-anchor="middle" textLength="57.00" lengthAdjust="spacingAndGlyphs">19: Cycloviolacin H2</text></g>
<g clip-path="url(#ca18)"><line x1="209.40" y1="237.80" x2="267.40" y2="237.80" stroke="#444" stroke-width="0.8" stroke-dasharray="1 1.1"/><line x1="209.40" y1="246.50" x2="267.40" y2="246.50" stroke="#4cbf9c" stroke-width="0.8" stroke-dasharray="1 1.1"/><polyline points="212.00,286.50 229.50,275.10 247.00,263.10 264.40,277.40" fill="none" stroke="#481568" stroke-width="1.65" stroke-linejoin="round"/><path d="M212.00,287.60 C214.57,287.53 223.32,288.27 227.40,287.20 C231.48,286.13 233.47,283.97 236.50,281.20 C239.53,278.43 242.57,273.88 245.60,270.60 C248.63,267.32 251.58,264.05 254.70,261.50 C257.82,258.95 262.70,256.33 264.30,255.30" fill="none" stroke="#3a3a3a" stroke-width="0.6"/><circle cx="212.00" cy="287.60" r="0.7" fill="#222"/><circle cx="215.89" cy="287.50" r="0.7" fill="#222"/><circle cx="219.78" cy="287.40" r="0.7" fill="#222"/><circle cx="223.67" cy="287.30" r="0.7" fill="#222"/><circle cx="227.56" cy="287.09" r="0.7" fill="#222"/><circle cx="231.45" cy="284.53" r="0.7" fill="#222"/><circle cx="235.34" cy="281.96" r="0.7" fill="#222"/><circle cx="239.23" cy="278.02" r="0.7" fill="#222"/><circle cx="243.12" cy="273.49" r="0.7" fill="#222"/><circle cx="247.01" cy="269.19" r="0.7" fill="#222"/><circle cx="250.90" cy="265.30" r="0.7" fill="#222"/><circle cx="254.79" cy="261.44" r="0.7" fill="#222"/><circle cx="258.68" cy="258.93" r="0.7" fill="#222"/><circle cx="262.57" cy="256.42" r="0.7" fill="#222"/></g>
<rect x="268.70" y="233.70" width="58.00" height="58.40" fill="#fff" stroke="#b4b4b4" stroke-width="1"/>
<rect x="268.70" y="223.80" width="58.00" height="9.90" fill="#fff" stroke="#8a8a8a" stroke-width="1"/>
<g clip-path="url(#sa19)"><text transform="translate(298.15,231.80) scale(1,1.15)" font-size="7.60" fill="#111" stroke="#111" stroke-width="0.2" text-anchor="middle" textLength="43.70" lengthAdjust="spacingAndGlyphs">20: HFIAP−1</text></g>
<g clip-path="url(#ca19)"><line x1="268.70" y1="237.80" x2="326.70" y2="237.80" stroke="#444" stroke-width="0.8" stroke-dasharray="1 1.1"/><line x1="268.70" y1="246.50" x2="326.70" y2="246.50" stroke="#4cbf9c" stroke-width="0.8" stroke-dasharray="1 1.1"/><polyline points="271.30,285.50 288.80,282.50 306.30,275.60 323.70,277.10" fill="none" stroke="#440154" stroke-width="1.65" stroke-linejoin="round"/><path d="M271.30,287.00 C274.17,286.87 285.00,286.38 288.50,286.20 C292.00,286.02 290.50,286.48 292.30,285.90 C294.10,285.32 296.97,284.35 299.30,282.70 C301.63,281.05 303.97,277.90 306.30,276.00 C308.63,274.10 311.13,272.45 313.30,271.30 C315.47,270.15 317.60,269.60 319.30,269.10 C321.00,268.60 322.80,268.43 323.50,268.30" fill="none" stroke="#3a3a3a" stroke-width="0.6"/><circle cx="271.30" cy="287.00" r="0.7" fill="#222"/><circle cx="275.19" cy="286.82" r="0.7" fill="#222"/><circle cx="279.08" cy="286.64" r="0.7" fill="#222"/><circle cx="282.97" cy="286.46" r="0.7" fill="#222"/><circle cx="286.86" cy="286.28" r="0.7" fill="#222"/><circle cx="290.75" cy="286.02" r="0.7" fill="#222"/><circle cx="294.64" cy="284.83" r="0.7" fill="#222"/><circle cx="298.53" cy="283.05" r="0.7" fill="#222"/><circle cx="302.42" cy="279.71" r="0.7" fill="#222"/><circle cx="306.31" cy="275.99" r="0.7" fill="#222"/><circle cx="310.20" cy="273.38" r="0.7" fill="#222"/><circle cx="314.09" cy="271.01" r="0.7" fill="#222"/><circle cx="317.98" cy="269.58" r="0.7" fill="#222"/><circle cx="321.87" cy="268.61" r="0.7" fill="#222"/><line x1="313.30" y1="266.20" x2="313.30" y2="272.20" stroke="#9a9a9a" stroke-width="0.6"/><line x1="317.80" y1="265.20" x2="317.80" y2="271.20" stroke="#9a9a9a" stroke-width="0.6"/><line x1="323.50" y1="265.20" x2="323.50" y2="270.20" stroke="#9a9a9a" stroke-width="0.6"/><text transform="translate(271.00,254.40) scale(1,1.15)" font-size="8.1" fill="#111" stroke="#111" stroke-width="0.15">p&lt;0.05</text></g>
<text transform="translate(29.6,260.11) scale(1,1.18)" font-size="9.6" fill="#333" stroke="#333" stroke-width="0.2" text-anchor="end">0.3</text>
<text transform="translate(29.6,291.71) scale(1,1.18)" font-size="9.6" fill="#333" stroke="#333" stroke-width="0.2" text-anchor="end">0.0</text>
<line x1="29.6" y1="257.50" x2="31.5" y2="257.50" stroke="#666" stroke-width="0.7"/>
<text transform="translate(329.0,245.21) scale(1,1.18)" font-size="9.6" fill="#333" stroke="#333" stroke-width="0.2">4</text>
<text transform="translate(329.0,291.71) scale(1,1.18)" font-size="9.6" fill="#333" stroke="#333" stroke-width="0.2">0</text>
<text transform="translate(34.10,301.0) scale(1,1.12)" font-size="9.6" fill="#333" stroke="#333" stroke-width="0.2" text-anchor="middle">0</text>
<text transform="translate(45.75,301.0) scale(1,1.12)" font-size="9.6" fill="#333" stroke="#333" stroke-width="0.2" text-anchor="middle">1</text>
<text transform="translate(57.40,301.0) scale(1,1.12)" font-size="9.6" fill="#333" stroke="#333" stroke-width="0.2" text-anchor="middle">2</text>
<text transform="translate(69.05,301.0) scale(1,1.12)" font-size="9.6" fill="#333" stroke="#333" stroke-width="0.2" text-anchor="middle">3</text>
<text transform="translate(80.70,301.0) scale(1,1.12)" font-size="9.6" fill="#333" stroke="#333" stroke-width="0.2" text-anchor="middle">4</text>
<text transform="translate(93.40,301.0) scale(1,1.12)" font-size="9.6" fill="#333" stroke="#333" stroke-width="0.2" text-anchor="middle">0</text>
<text transform="translate(105.05,301.0) scale(1,1.12)" font-size="9.6" fill="#333" stroke="#333" stroke-width="0.2" text-anchor="middle">1</text>
<text transform="translate(116.70,301.0) scale(1,1.12)" font-size="9.6" fill="#333" stroke="#333" stroke-width="0.2" text-anchor="middle">2</text>
<text transform="translate(128.35,301.0) scale(1,1.12)" font-size="9.6" fill="#333" stroke="#333" stroke-width="0.2" text-anchor="middle">3</text>
<text transform="translate(140.00,301.0) scale(1,1.12)" font-size="9.6" fill="#333" stroke="#333" stroke-width="0.2" text-anchor="middle">4</text>
<text transform="translate(152.70,301.0) scale(1,1.12)" font-size="9.6" fill="#333" stroke="#333" stroke-width="0.2" text-anchor="middle">0</text>
<text transform="translate(164.35,301.0) scale(1,1.12)" font-size="9.6" fill="#333" stroke="#333" stroke-width="0.2" text-anchor="middle">1</text>
<text transform="translate(176.00,301.0) scale(1,1.12)" font-size="9.6" fill="#333" stroke="#333" stroke-width="0.2" text-anchor="middle">2</text>
<text transform="translate(187.65,301.0) scale(1,1.12)" font-size="9.6" fill="#333" stroke="#333" stroke-width="0.2" text-anchor="middle">3</text>
<text transform="translate(199.30,301.0) scale(1,1.12)" font-size="9.6" fill="#333" stroke="#333" stroke-width="0.2" text-anchor="middle">4</text>
<text transform="translate(212.00,301.0) scale(1,1.12)" font-size="9.6" fill="#333" stroke="#333" stroke-width="0.2" text-anchor="middle">0</text>
<text transform="translate(223.65,301.0) scale(1,1.12)" font-size="9.6" fill="#333" stroke="#333" stroke-width="0.2" text-anchor="middle">1</text>
<text transform="translate(235.30,301.0) scale(1,1.12)" font-size="9.6" fill="#333" stroke="#333" stroke-width="0.2" text-anchor="middle">2</text>
<text transform="translate(246.95,301.0) scale(1,1.12)" font-size="9.6" fill="#333" stroke="#333" stroke-width="0.2" text-anchor="middle">3</text>
<text transform="translate(258.60,301.0) scale(1,1.12)" font-size="9.6" fill="#333" stroke="#333" stroke-width="0.2" text-anchor="middle">4</text>
<text transform="translate(271.30,301.0) scale(1,1.12)" font-size="9.6" fill="#333" stroke="#333" stroke-width="0.2" text-anchor="middle">0</text>
<text transform="translate(282.95,301.0) scale(1,1.12)" font-size="9.6" fill="#333" stroke="#333" stroke-width="0.2" text-anchor="middle">1</text>
<text transform="translate(294.60,301.0) scale(1,1.12)" font-size="9.6" fill="#333" stroke="#333" stroke-width="0.2" text-anchor="middle">2</text>
<text transform="translate(306.25,301.0) scale(1,1.12)" font-size="9.6" fill="#333" stroke="#333" stroke-width="0.2" text-anchor="middle">3</text>
<text transform="translate(317.90,301.0) scale(1,1.12)" font-size="9.6" fill="#333" stroke="#333" stroke-width="0.2" text-anchor="middle">4</text>
<text x="189.8" y="311.4" font-size="11.8" fill="#222" stroke="#222" stroke-width="0.2" text-anchor="middle">Time [h]</text>
<text transform="translate(10.6,155.2) rotate(-90)" font-size="11.3" fill="#222" stroke="#222" stroke-width="0.2" text-anchor="middle">Growth (OD)</text>
<text transform="translate(337.4,129.0) rotate(90)" font-size="10.7" fill="#222" stroke="#222" stroke-width="0.2">Growth (OD<tspan font-size="8.3" dy="2.6" dx="0.3">lp</tspan><tspan dy="-2.6">)</tspan></text>
<text x="339.2" y="13.6" font-size="14.5" fill="#000" stroke="#000" stroke-width="0.3">b</text>
<defs>
<clipPath id="cb0"><rect x="358.20" y="14.45" width="59.30" height="70.00"/></clipPath>
<clipPath id="cb1"><rect x="420.50" y="14.45" width="59.30" height="70.00"/></clipPath>
<clipPath id="cb2"><rect x="482.70" y="14.45" width="59.30" height="70.00"/></clipPath>
<clipPath id="cb3"><rect x="544.70" y="14.45" width="59.30" height="70.00"/></clipPath>
<clipPath id="cb4"><rect x="606.70" y="14.45" width="59.30" height="70.00"/></clipPath>
<clipPath id="cb5"><rect x="358.20" y="86.80" width="59.30" height="69.40"/></clipPath>
<clipPath id="cb6"><rect x="420.50" y="86.80" width="59.30" height="69.40"/></clipPath>
<clipPath id="cb7"><rect x="482.70" y="86.80" width="59.30" height="69.40"/></clipPath>
<clipPath id="cb8"><rect x="544.70" y="86.80" width="59.30" height="69.40"/></clipPath>
<clipPath id="cb9"><rect x="606.70" y="86.80" width="59.30" height="69.40"/></clipPath>
<clipPath id="cb10"><rect x="358.20" y="158.20" width="59.30" height="69.70"/></clipPath>
<clipPath id="cb11"><rect x="420.50" y="158.20" width="59.30" height="69.70"/></clipPath>
<clipPath id="cb12"><rect x="482.70" y="158.20" width="59.30" height="69.70"/></clipPath>
<clipPath id="cb13"><rect x="544.70" y="158.20" width="59.30" height="69.70"/></clipPath>
<clipPath id="cb14"><rect x="606.70" y="158.20" width="59.30" height="69.70"/></clipPath>
<clipPath id="cb15"><rect x="358.20" y="230.30" width="59.30" height="69.50"/></clipPath>
<clipPath id="cb16"><rect x="420.50" y="230.30" width="59.30" height="69.50"/></clipPath>
<clipPath id="cb17"><rect x="482.70" y="230.30" width="59.30" height="69.50"/></clipPath>
<clipPath id="cb18"><rect x="544.70" y="230.30" width="59.30" height="69.50"/></clipPath>
<clipPath id="cb19"><rect x="606.70" y="230.30" width="59.30" height="69.50"/></clipPath>
</defs>
<rect x="418.00" y="14.45" width="2.00" height="285.35" fill="#cfcfcf"/>
<rect x="480.30" y="14.45" width="1.90" height="285.35" fill="#cfcfcf"/>
<rect x="542.50" y="14.45" width="1.70" height="285.35" fill="#cfcfcf"/>
<rect x="604.50" y="14.45" width="1.70" height="285.35" fill="#cfcfcf"/>
<rect x="357.70" y="14.45" width="60.30" height="70.00" fill="#fff" stroke="#707070" stroke-width="1"/>
<line x1="357.70" y1="26.35" x2="418.00" y2="26.35" stroke="#707070" stroke-width="1"/>
<text transform="translate(387.85,24.65) scale(1,1.15)" font-size="7.60" fill="#111" stroke="#111" stroke-width="0.2" text-anchor="middle" textLength="46.30" lengthAdjust="spacingAndGlyphs">1: Meucin−25</text>
<g clip-path="url(#cb0)"><circle cx="388.10" cy="56.05" r="5.80" fill="none" stroke="#f1f1f1" stroke-width="0.7"/><circle cx="388.10" cy="56.05" r="11.50" fill="none" stroke="#f1f1f1" stroke-width="0.7"/><circle cx="388.10" cy="56.05" r="17.20" fill="none" stroke="#f1f1f1" stroke-width="0.7"/><circle cx="388.10" cy="56.05" r="22.90" fill="none" stroke="#f1f1f1" stroke-width="0.7"/><line x1="388.10" y1="56.05" x2="368.27" y2="44.60" stroke="#f1f1f1" stroke-width="0.7"/><line x1="388.10" y1="56.05" x2="407.93" y2="44.60" stroke="#f1f1f1" stroke-width="0.7"/><line x1="388.10" y1="56.05" x2="388.10" y2="78.95" stroke="#f1f1f1" stroke-width="0.7"/><polygon points="387.06,55.45 389.14,55.45 388.10,60.05" fill="#FDE725" stroke="#FDE725" stroke-width="1.1" stroke-linejoin="round"/><text transform="translate(358.90,35.30) scale(1,1.2)" font-size="7.9" fill="#111" stroke="#111" stroke-width="0.22">DNA</text><text transform="translate(416.70,35.30) scale(1,1.2)" font-size="8.1" fill="#111" stroke="#111" stroke-width="0.22" text-anchor="end">Membrane</text><text transform="translate(388.60,82.75) scale(1,1.2)" font-size="7.5" fill="#111" stroke="#111" stroke-width="0.22" text-anchor="middle">Translation</text></g>
<rect x="420.00" y="14.45" width="60.30" height="70.00" fill="#fff" stroke="#707070" stroke-width="1"/>
<line x1="420.00" y1="26.35" x2="480.30" y2="26.35" stroke="#707070" stroke-width="1"/>
<text transform="translate(450.15,24.65) scale(1,1.15)" font-size="7.60" fill="#111" stroke="#111" stroke-width="0.2" text-anchor="middle" textLength="49.00" lengthAdjust="spacingAndGlyphs">2: Ascaphin−6</text>
<g clip-path="url(#cb1)"><circle cx="450.40" cy="56.05" r="5.80" fill="none" stroke="#f1f1f1" stroke-width="0.7"/><circle cx="450.40" cy="56.05" r="11.50" fill="none" stroke="#f1f1f1" stroke-width="0.7"/><circle cx="450.40" cy="56.05" r="17.20" fill="none" stroke="#f1f1f1" stroke-width="0.7"/><circle cx="450.40" cy="56.05" r="22.90" fill="none" stroke="#f1f1f1" stroke-width="0.7"/><line x1="450.40" y1="56.05" x2="430.57" y2="44.60" stroke="#f1f1f1" stroke-width="0.7"/><line x1="450.40" y1="56.05" x2="470.23" y2="44.60" stroke="#f1f1f1" stroke-width="0.7"/><line x1="450.40" y1="56.05" x2="450.40" y2="78.95" stroke="#f1f1f1" stroke-width="0.7"/><polygon points="447.72,54.50 451.27,55.55 450.40,63.55" fill="#DDE318" stroke="#DDE318" stroke-width="1.1" stroke-linejoin="round"/><text transform="translate(421.20,35.30) scale(1,1.2)" font-size="7.9" fill="#111" stroke="#111" stroke-width="0.22">DNA</text><text transform="translate(479.00,35.30) scale(1,1.2)" font-size="8.1" fill="#111" stroke="#111" stroke-width="0.22" text-anchor="end">Membrane</text><text transform="translate(450.90,82.75) scale(1,1.2)" font-size="7.5" fill="#111" stroke="#111" stroke-width="0.22" text-anchor="middle">Translation</text><text transform="translate(471.05,82.75) scale(1,1.2)" font-size="7.5" fill="#111">*</text></g>
<rect x="482.20" y="14.45" width="60.30" height="70.00" fill="#fff" stroke="#707070" stroke-width="1"/>
<line x1="482.20" y1="26.35" x2="542.50" y2="26.35" stroke="#707070" stroke-width="1"/>
<text transform="translate(512.35,24.65) scale(1,1.15)" font-size="7.60" fill="#111" stroke="#111" stroke-width="0.2" text-anchor="middle" textLength="26.90" lengthAdjust="spacingAndGlyphs">3: P−10</text>
<g clip-path="url(#cb2)"><circle cx="512.60" cy="56.05" r="5.80" fill="none" stroke="#f1f1f1" stroke-width="0.7"/><circle cx="512.60" cy="56.05" r="11.50" fill="none" stroke="#f1f1f1" stroke-width="0.7"/><circle cx="512.60" cy="56.05" r="17.20" fill="none" stroke="#f1f1f1" stroke-width="0.7"/><circle cx="512.60" cy="56.05" r="22.90" fill="none" stroke="#f1f1f1" stroke-width="0.7"/><line x1="512.60" y1="56.05" x2="492.77" y2="44.60" stroke="#f1f1f1" stroke-width="0.7"/><line x1="512.60" y1="56.05" x2="532.43" y2="44.60" stroke="#f1f1f1" stroke-width="0.7"/><line x1="512.60" y1="56.05" x2="512.60" y2="78.95" stroke="#f1f1f1" stroke-width="0.7"/><polygon points="492.94,44.70 512.95,55.85 512.60,61.25" fill="#e3d69a" stroke="#BADE28" stroke-width="1.1" stroke-linejoin="round"/><text transform="translate(483.40,35.30) scale(1,1.2)" font-size="7.9" fill="#111" stroke="#111" stroke-width="0.22">DNA</text><text transform="translate(499.80,35.00) scale(1,1.2)" font-size="7.2" fill="#111">*</text><text transform="translate(541.20,35.30) scale(1,1.2)" font-size="8.1" fill="#111" stroke="#111" stroke-width="0.22" text-anchor="end">Membrane</text><text transform="translate(513.10,82.75) scale(1,1.2)" font-size="7.5" fill="#111" stroke="#111" stroke-width="0.22" text-anchor="middle">Translation</text><text transform="translate(533.25,82.75) scale(1,1.2)" font-size="7.5" fill="#111">*</text><text transform="translate(504.30,40.45) scale(1,1.2)" font-size="7.3" fill="#111" stroke="#111" stroke-width="0.22">3%</text></g>
<rect x="544.20" y="14.45" width="60.30" height="70.00" fill="#fff" stroke="#707070" stroke-width="1"/>
<line x1="544.20" y1="26.35" x2="604.50" y2="26.35" stroke="#707070" stroke-width="1"/>
<text transform="translate(574.35,24.65) scale(1,1.15)" font-size="7.30" fill="#111" stroke="#111" stroke-width="0.2" text-anchor="middle" textLength="57.20" lengthAdjust="spacingAndGlyphs">4: Enterocin RJ−11</text>
<g clip-path="url(#cb3)"><circle cx="574.60" cy="56.05" r="5.80" fill="none" stroke="#f1f1f1" stroke-width="0.7"/><circle cx="574.60" cy="56.05" r="11.50" fill="none" stroke="#f1f1f1" stroke-width="0.7"/><circle cx="574.60" cy="56.05" r="17.20" fill="none" stroke="#f1f1f1" stroke-width="0.7"/><circle cx="574.60" cy="56.05" r="22.90" fill="none" stroke="#f1f1f1" stroke-width="0.7"/><line x1="574.60" y1="56.05" x2="554.77" y2="44.60" stroke="#f1f1f1" stroke-width="0.7"/><line x1="574.60" y1="56.05" x2="594.43" y2="44.60" stroke="#f1f1f1" stroke-width="0.7"/><line x1="574.60" y1="56.05" x2="574.60" y2="78.95" stroke="#f1f1f1" stroke-width="0.7"/><polygon points="573.73,55.55 583.87,50.70 574.60,57.05" fill="#95D840" stroke="#95D840" stroke-width="1.1" stroke-linejoin="round"/><text transform="translate(545.40,35.30) scale(1,1.2)" font-size="7.9" fill="#111" stroke="#111" stroke-width="0.22">DNA</text><text transform="translate(603.20,35.30) scale(1,1.2)" font-size="8.1" fill="#111" stroke="#111" stroke-width="0.22" text-anchor="end">Membrane</text><line x1="564.70" y1="37.10" x2="603.20" y2="37.10" stroke="#333" stroke-width="0.8"/><text transform="translate(575.10,82.75) scale(1,1.2)" font-size="7.5" fill="#111" stroke="#111" stroke-width="0.22" text-anchor="middle">Translation</text></g>
<rect x="606.20" y="14.45" width="60.30" height="70.00" fill="#fff" stroke="#707070" stroke-width="1"/>
<line x1="606.20" y1="26.35" x2="666.50" y2="26.35" stroke="#707070" stroke-width="1"/>
<text transform="translate(636.35,24.65) scale(1,1.15)" font-size="7.60" fill="#111" stroke="#111" stroke-width="0.2" text-anchor="middle" textLength="31.80" lengthAdjust="spacingAndGlyphs">5: PepG1</text>
<g clip-path="url(#cb4)"><circle cx="636.60" cy="56.05" r="5.80" fill="none" stroke="#f1f1f1" stroke-width="0.7"/><circle cx="636.60" cy="56.05" r="11.50" fill="none" stroke="#f1f1f1" stroke-width="0.7"/><circle cx="636.60" cy="56.05" r="17.20" fill="none" stroke="#f1f1f1" stroke-width="0.7"/><circle cx="636.60" cy="56.05" r="22.90" fill="none" stroke="#f1f1f1" stroke-width="0.7"/><line x1="636.60" y1="56.05" x2="616.77" y2="44.60" stroke="#f1f1f1" stroke-width="0.7"/><line x1="636.60" y1="56.05" x2="656.43" y2="44.60" stroke="#f1f1f1" stroke-width="0.7"/><line x1="636.60" y1="56.05" x2="636.60" y2="78.95" stroke="#f1f1f1" stroke-width="0.7"/><polygon points="636.08,55.75 641.36,53.30 636.60,56.65" fill="#75D054" stroke="#75D054" stroke-width="1.1" stroke-linejoin="round"/><text transform="translate(607.40,35.30) scale(1,1.2)" font-size="7.9" fill="#111" stroke="#111" stroke-width="0.22">DNA</text><text transform="translate(665.20,35.30) scale(1,1.2)" font-size="8.1" fill="#111" stroke="#111" stroke-width="0.22" text-anchor="end">Membrane</text><line x1="626.70" y1="37.10" x2="665.20" y2="37.10" stroke="#333" stroke-width="0.8"/><text transform="translate(607.80,82.75) scale(1,1.2)" font-size="7.6" fill="#111" stroke="#111" stroke-width="0.22">Translation x-3.7</text><text transform="translate(608.00,40.45) scale(1,1.2)" font-size="7" fill="#111" stroke="#111" stroke-width="0.22">x-2.7</text></g>
<rect x="357.70" y="86.80" width="60.30" height="69.40" fill="#fff" stroke="#707070" stroke-width="1"/>
<line x1="357.70" y1="98.20" x2="418.00" y2="98.20" stroke="#707070" stroke-width="1"/>
<text transform="translate(387.85,95.90) scale(1,1.15)" font-size="7.60" fill="#111" stroke="#111" stroke-width="0.2" text-anchor="middle" textLength="51.70" lengthAdjust="spacingAndGlyphs">6: PepG1 short</text>
<g clip-path="url(#cb5)"><circle cx="388.10" cy="128.00" r="5.80" fill="none" stroke="#f1f1f1" stroke-width="0.7"/><circle cx="388.10" cy="128.00" r="11.50" fill="none" stroke="#f1f1f1" stroke-width="0.7"/><circle cx="388.10" cy="128.00" r="17.20" fill="none" stroke="#f1f1f1" stroke-width="0.7"/><circle cx="388.10" cy="128.00" r="22.90" fill="none" stroke="#f1f1f1" stroke-width="0.7"/><line x1="388.10" y1="128.00" x2="368.27" y2="116.55" stroke="#f1f1f1" stroke-width="0.7"/><line x1="388.10" y1="128.00" x2="407.93" y2="116.55" stroke="#f1f1f1" stroke-width="0.7"/><line x1="388.10" y1="128.00" x2="388.10" y2="150.90" stroke="#f1f1f1" stroke-width="0.7"/><polygon points="387.67,127.75 400.22,121.00 388.10,128.50" fill="#56C667" stroke="#56C667" stroke-width="1.1" stroke-linejoin="round"/><text transform="translate(358.90,105.40) scale(1,1.2)" font-size="7.9" fill="#111" stroke="#111" stroke-width="0.22">DNA</text><text transform="translate(416.70,105.40) scale(1,1.2)" font-size="8.1" fill="#111" stroke="#111" stroke-width="0.22" text-anchor="end">Membrane</text><line x1="378.20" y1="107.20" x2="416.70" y2="107.20" stroke="#333" stroke-width="0.8"/><text transform="translate(388.60,154.70) scale(1,1.2)" font-size="7.5" fill="#111" stroke="#111" stroke-width="0.22" text-anchor="middle">Translation</text></g>
<rect x="420.00" y="86.80" width="60.30" height="69.40" fill="#fff" stroke="#707070" stroke-width="1"/>
<line x1="420.00" y1="98.20" x2="480.30" y2="98.20" stroke="#707070" stroke-width="1"/>
<text transform="translate(450.15,95.90) scale(1,1.15)" font-size="7.60" fill="#111" stroke="#111" stroke-width="0.2" text-anchor="middle" textLength="35.60" lengthAdjust="spacingAndGlyphs">7: YFGAP</text>
<g clip-path="url(#cb6)"><circle cx="450.40" cy="128.00" r="5.80" fill="none" stroke="#f1f1f1" stroke-width="0.7"/><circle cx="450.40" cy="128.00" r="11.50" fill="none" stroke="#f1f1f1" stroke-width="0.7"/><circle cx="450.40" cy="128.00" r="17.20" fill="none" stroke="#f1f1f1" stroke-width="0.7"/><circle cx="450.40" cy="128.00" r="22.90" fill="none" stroke="#f1f1f1" stroke-width="0.7"/><line x1="450.40" y1="128.00" x2="430.57" y2="116.55" stroke="#f1f1f1" stroke-width="0.7"/><line x1="450.40" y1="128.00" x2="470.23" y2="116.55" stroke="#f1f1f1" stroke-width="0.7"/><line x1="450.40" y1="128.00" x2="450.40" y2="150.90" stroke="#f1f1f1" stroke-width="0.7"/><polygon points="449.10,127.25 451.70,127.25 450.40,129.50" fill="#3CBC75" stroke="#3CBC75" stroke-width="1.1" stroke-linejoin="round"/><text transform="translate(421.20,105.40) scale(1,1.2)" font-size="7.9" fill="#111" stroke="#111" stroke-width="0.22">DNA</text><text transform="translate(479.00,105.40) scale(1,1.2)" font-size="8.1" fill="#111" stroke="#111" stroke-width="0.22" text-anchor="end">Membrane</text><text transform="translate(450.90,154.70) scale(1,1.2)" font-size="7.5" fill="#111" stroke="#111" stroke-width="0.22" text-anchor="middle">Translation</text></g>
<rect x="482.20" y="86.80" width="60.30" height="69.40" fill="#fff" stroke="#707070" stroke-width="1"/>
<line x1="482.20" y1="98.20" x2="542.50" y2="98.20" stroke="#707070" stroke-width="1"/>
<text transform="translate(512.35,95.90) scale(1,1.15)" font-size="7.60" fill="#111" stroke="#111" stroke-width="0.2" text-anchor="middle" textLength="32.70" lengthAdjust="spacingAndGlyphs">8: PepG1</text>
<g clip-path="url(#cb7)"><circle cx="512.60" cy="128.00" r="5.80" fill="none" stroke="#f1f1f1" stroke-width="0.7"/><circle cx="512.60" cy="128.00" r="11.50" fill="none" stroke="#f1f1f1" stroke-width="0.7"/><circle cx="512.60" cy="128.00" r="17.20" fill="none" stroke="#f1f1f1" stroke-width="0.7"/><circle cx="512.60" cy="128.00" r="22.90" fill="none" stroke="#f1f1f1" stroke-width="0.7"/><line x1="512.60" y1="128.00" x2="492.77" y2="116.55" stroke="#f1f1f1" stroke-width="0.7"/><line x1="512.60" y1="128.00" x2="532.43" y2="116.55" stroke="#f1f1f1" stroke-width="0.7"/><line x1="512.60" y1="128.00" x2="512.60" y2="150.90" stroke="#f1f1f1" stroke-width="0.7"/><polygon points="512.17,127.75 516.93,125.50 512.60,128.50" fill="#29AF7F" stroke="#29AF7F" stroke-width="1.1" stroke-linejoin="round"/><text transform="translate(483.40,105.40) scale(1,1.2)" font-size="7.9" fill="#111" stroke="#111" stroke-width="0.22">DNA</text><text transform="translate(541.20,105.40) scale(1,1.2)" font-size="8.1" fill="#111" stroke="#111" stroke-width="0.22" text-anchor="end">Membrane</text><line x1="502.70" y1="107.20" x2="541.20" y2="107.20" stroke="#333" stroke-width="0.8"/><text transform="translate(513.10,154.70) scale(1,1.2)" font-size="7.5" fill="#111" stroke="#111" stroke-width="0.22" text-anchor="middle">Translation</text></g>
<rect x="544.20" y="86.80" width="60.30" height="69.40" fill="#fff" stroke="#707070" stroke-width="1"/>
<line x1="544.20" y1="98.20" x2="604.50" y2="98.20" stroke="#707070" stroke-width="1"/>
<text transform="translate(574.35,95.90) scale(1,1.15)" font-size="7.60" fill="#111" stroke="#111" stroke-width="0.2" text-anchor="middle" textLength="35.00" lengthAdjust="spacingAndGlyphs">9: YFGAP</text>
<g clip-path="url(#cb8)"><circle cx="574.60" cy="128.00" r="5.80" fill="none" stroke="#f1f1f1" stroke-width="0.7"/><circle cx="574.60" cy="128.00" r="11.50" fill="none" stroke="#f1f1f1" stroke-width="0.7"/><circle cx="574.60" cy="128.00" r="17.20" fill="none" stroke="#f1f1f1" stroke-width="0.7"/><circle cx="574.60" cy="128.00" r="22.90" fill="none" stroke="#f1f1f1" stroke-width="0.7"/><line x1="574.60" y1="128.00" x2="554.77" y2="116.55" stroke="#f1f1f1" stroke-width="0.7"/><line x1="574.60" y1="128.00" x2="594.43" y2="116.55" stroke="#f1f1f1" stroke-width="0.7"/><line x1="574.60" y1="128.00" x2="574.60" y2="150.90" stroke="#f1f1f1" stroke-width="0.7"/><polygon points="552.95,115.50 575.47,127.50 574.60,130.50" fill="#bfe3d6" stroke="#20A386" stroke-width="1.1" stroke-linejoin="round"/><text transform="translate(545.40,105.40) scale(1,1.2)" font-size="7.9" fill="#111" stroke="#111" stroke-width="0.22">DNA</text><text transform="translate(561.80,105.10) scale(1,1.2)" font-size="7.2" fill="#111">*</text><text transform="translate(603.20,105.40) scale(1,1.2)" font-size="8.1" fill="#111" stroke="#111" stroke-width="0.22" text-anchor="end">Membrane</text><text transform="translate(575.10,154.70) scale(1,1.2)" font-size="7.5" fill="#111" stroke="#111" stroke-width="0.22" text-anchor="middle">Translation</text><text transform="translate(546.00,112.10) scale(1,1.2)" font-size="7.5" fill="#111" stroke="#111" stroke-width="0.22">x10.7</text></g>
<rect x="606.20" y="86.80" width="60.30" height="69.40" fill="#fff" stroke="#707070" stroke-width="1"/>
<line x1="606.20" y1="98.20" x2="666.50" y2="98.20" stroke="#707070" stroke-width="1"/>
<text transform="translate(636.35,95.90) scale(1,1.15)" font-size="7.60" fill="#111" stroke="#111" stroke-width="0.2" text-anchor="middle" textLength="57.00" lengthAdjust="spacingAndGlyphs">10: Pyrrhocoricin</text>
<g clip-path="url(#cb9)"><circle cx="636.60" cy="128.00" r="5.80" fill="none" stroke="#f1f1f1" stroke-width="0.7"/><circle cx="636.60" cy="128.00" r="11.50" fill="none" stroke="#f1f1f1" stroke-width="0.7"/><circle cx="636.60" cy="128.00" r="17.20" fill="none" stroke="#f1f1f1" stroke-width="0.7"/><circle cx="636.60" cy="128.00" r="22.90" fill="none" stroke="#f1f1f1" stroke-width="0.7"/><line x1="636.60" y1="128.00" x2="616.77" y2="116.55" stroke="#f1f1f1" stroke-width="0.7"/><line x1="636.60" y1="128.00" x2="656.43" y2="116.55" stroke="#f1f1f1" stroke-width="0.7"/><line x1="636.60" y1="128.00" x2="636.60" y2="150.90" stroke="#f1f1f1" stroke-width="0.7"/><polygon points="634.00,126.50 637.90,127.25 636.60,151.00" fill="#bfe3d6" stroke="#1F968B" stroke-width="1.1" stroke-linejoin="round"/><text transform="translate(607.40,105.40) scale(1,1.2)" font-size="7.9" fill="#111" stroke="#111" stroke-width="0.22">DNA</text><text transform="translate(665.20,105.40) scale(1,1.2)" font-size="8.1" fill="#111" stroke="#111" stroke-width="0.22" text-anchor="end">Membrane</text><text transform="translate(607.80,154.70) scale(1,1.2)" font-size="7.6" fill="#111" stroke="#111" stroke-width="0.22">Translation<tspan dx="0.9">*</tspan> x5.6</text></g>
<rect x="357.70" y="158.20" width="60.30" height="69.70" fill="#fff" stroke="#707070" stroke-width="1"/>
<line x1="357.70" y1="170.20" x2="418.00" y2="170.20" stroke="#707070" stroke-width="1"/>
<text transform="translate(387.85,167.70) scale(1,1.15)" font-size="7.60" fill="#111" stroke="#111" stroke-width="0.2" text-anchor="middle" textLength="50.20" lengthAdjust="spacingAndGlyphs">11: Latarcin 4a</text>
<g clip-path="url(#cb10)"><circle cx="388.10" cy="200.00" r="5.80" fill="none" stroke="#f1f1f1" stroke-width="0.7"/><circle cx="388.10" cy="200.00" r="11.50" fill="none" stroke="#f1f1f1" stroke-width="0.7"/><circle cx="388.10" cy="200.00" r="17.20" fill="none" stroke="#f1f1f1" stroke-width="0.7"/><circle cx="388.10" cy="200.00" r="22.90" fill="none" stroke="#f1f1f1" stroke-width="0.7"/><line x1="388.10" y1="200.00" x2="368.27" y2="188.55" stroke="#f1f1f1" stroke-width="0.7"/><line x1="388.10" y1="200.00" x2="407.93" y2="188.55" stroke="#f1f1f1" stroke-width="0.7"/><line x1="388.10" y1="200.00" x2="388.10" y2="222.90" stroke="#f1f1f1" stroke-width="0.7"/><polygon points="370.78,190.00 388.53,199.75 388.10,202.40" fill="#bfe0df" stroke="#238A8D" stroke-width="1.1" stroke-linejoin="round"/><text transform="translate(358.90,177.70) scale(1,1.2)" font-size="7.9" fill="#111" stroke="#111" stroke-width="0.22">DNA</text><text transform="translate(375.30,177.40) scale(1,1.2)" font-size="7.2" fill="#111">*</text><text transform="translate(416.70,177.70) scale(1,1.2)" font-size="8.1" fill="#111" stroke="#111" stroke-width="0.22" text-anchor="end">Membrane</text><text transform="translate(388.60,226.60) scale(1,1.2)" font-size="7.5" fill="#111" stroke="#111" stroke-width="0.22" text-anchor="middle">Translation</text></g>
<rect x="420.00" y="158.20" width="60.30" height="69.70" fill="#fff" stroke="#707070" stroke-width="1"/>
<line x1="420.00" y1="170.20" x2="480.30" y2="170.20" stroke="#707070" stroke-width="1"/>
<text transform="translate(450.15,167.70) scale(1,1.15)" font-size="7.60" fill="#111" stroke="#111" stroke-width="0.2" text-anchor="middle" textLength="34.90" lengthAdjust="spacingAndGlyphs">12: PepG1</text>
<g clip-path="url(#cb11)"><circle cx="450.40" cy="200.00" r="5.80" fill="none" stroke="#f1f1f1" stroke-width="0.7"/><circle cx="450.40" cy="200.00" r="11.50" fill="none" stroke="#f1f1f1" stroke-width="0.7"/><circle cx="450.40" cy="200.00" r="17.20" fill="none" stroke="#f1f1f1" stroke-width="0.7"/><circle cx="450.40" cy="200.00" r="22.90" fill="none" stroke="#f1f1f1" stroke-width="0.7"/><line x1="450.40" y1="200.00" x2="430.57" y2="188.55" stroke="#f1f1f1" stroke-width="0.7"/><line x1="450.40" y1="200.00" x2="470.23" y2="188.55" stroke="#f1f1f1" stroke-width="0.7"/><line x1="450.40" y1="200.00" x2="450.40" y2="222.90" stroke="#f1f1f1" stroke-width="0.7"/><polygon points="449.53,199.50 456.89,196.25 450.40,202.00" fill="#287D8E" stroke="#287D8E" stroke-width="1.1" stroke-linejoin="round"/><text transform="translate(421.20,177.70) scale(1,1.2)" font-size="7.9" fill="#111" stroke="#111" stroke-width="0.22">DNA</text><text transform="translate(479.00,177.70) scale(1,1.2)" font-size="8.1" fill="#111" stroke="#111" stroke-width="0.22" text-anchor="end">Membrane</text><line x1="440.50" y1="179.50" x2="479.00" y2="179.50" stroke="#333" stroke-width="0.8"/><text transform="translate(450.90,226.60) scale(1,1.2)" font-size="7.5" fill="#111" stroke="#111" stroke-width="0.22" text-anchor="middle">Translation</text><text transform="translate(471.05,226.60) scale(1,1.2)" font-size="7.5" fill="#111">*</text></g>
<rect x="482.20" y="158.20" width="60.30" height="69.70" fill="#fff" stroke="#707070" stroke-width="1"/>
<line x1="482.20" y1="170.20" x2="542.50" y2="170.20" stroke="#707070" stroke-width="1"/>
<text transform="translate(512.35,167.70) scale(1,1.15)" font-size="7.60" fill="#111" stroke="#111" stroke-width="0.2" text-anchor="middle" textLength="45.70" lengthAdjust="spacingAndGlyphs">13: Vv−AMP1</text>
<g clip-path="url(#cb12)"><circle cx="512.60" cy="200.00" r="5.80" fill="none" stroke="#f1f1f1" stroke-width="0.7"/><circle cx="512.60" cy="200.00" r="11.50" fill="none" stroke="#f1f1f1" stroke-width="0.7"/><circle cx="512.60" cy="200.00" r="17.20" fill="none" stroke="#f1f1f1" stroke-width="0.7"/><circle cx="512.60" cy="200.00" r="22.90" fill="none" stroke="#f1f1f1" stroke-width="0.7"/><line x1="512.60" y1="200.00" x2="492.77" y2="188.55" stroke="#f1f1f1" stroke-width="0.7"/><line x1="512.60" y1="200.00" x2="532.43" y2="188.55" stroke="#f1f1f1" stroke-width="0.7"/><line x1="512.60" y1="200.00" x2="512.60" y2="222.90" stroke="#f1f1f1" stroke-width="0.7"/><polygon points="510.00,198.50 513.47,199.50 512.60,201.00" fill="#2D718E" stroke="#2D718E" stroke-width="1.1" stroke-linejoin="round"/><text transform="translate(483.40,177.70) scale(1,1.2)" font-size="7.9" fill="#111" stroke="#111" stroke-width="0.22">DNA</text><text transform="translate(541.20,177.70) scale(1,1.2)" font-size="8.1" fill="#111" stroke="#111" stroke-width="0.22" text-anchor="end">Membrane</text><text transform="translate(513.10,226.60) scale(1,1.2)" font-size="7.5" fill="#111" stroke="#111" stroke-width="0.22" text-anchor="middle">Translation</text></g>
<rect x="544.20" y="158.20" width="60.30" height="69.70" fill="#fff" stroke="#707070" stroke-width="1"/>
<line x1="544.20" y1="170.20" x2="604.50" y2="170.20" stroke="#707070" stroke-width="1"/>
<text transform="translate(574.35,167.70) scale(1,1.15)" font-size="7.60" fill="#111" stroke="#111" stroke-width="0.2" text-anchor="middle" textLength="46.10" lengthAdjust="spacingAndGlyphs">14: BF−CATH</text>
<g clip-path="url(#cb13)"><circle cx="574.60" cy="200.00" r="5.80" fill="none" stroke="#f1f1f1" stroke-width="0.7"/><circle cx="574.60" cy="200.00" r="11.50" fill="none" stroke="#f1f1f1" stroke-width="0.7"/><circle cx="574.60" cy="200.00" r="17.20" fill="none" stroke="#f1f1f1" stroke-width="0.7"/><circle cx="574.60" cy="200.00" r="22.90" fill="none" stroke="#f1f1f1" stroke-width="0.7"/><line x1="574.60" y1="200.00" x2="554.77" y2="188.55" stroke="#f1f1f1" stroke-width="0.7"/><line x1="574.60" y1="200.00" x2="594.43" y2="188.55" stroke="#f1f1f1" stroke-width="0.7"/><line x1="574.60" y1="200.00" x2="574.60" y2="222.90" stroke="#f1f1f1" stroke-width="0.7"/><polygon points="568.71,196.60 575.03,199.75 574.60,201.70" fill="#32648E" stroke="#32648E" stroke-width="1.1" stroke-linejoin="round"/><text transform="translate(545.40,177.70) scale(1,1.2)" font-size="7.9" fill="#111" stroke="#111" stroke-width="0.22">DNA</text><text transform="translate(561.80,177.40) scale(1,1.2)" font-size="7.2" fill="#111">*</text><text transform="translate(603.20,177.70) scale(1,1.2)" font-size="8.1" fill="#111" stroke="#111" stroke-width="0.22" text-anchor="end">Membrane</text><text transform="translate(575.10,226.60) scale(1,1.2)" font-size="7.5" fill="#111" stroke="#111" stroke-width="0.22" text-anchor="middle">Translation</text></g>
<rect x="606.20" y="158.20" width="60.30" height="69.70" fill="#fff" stroke="#707070" stroke-width="1"/>
<line x1="606.20" y1="170.20" x2="666.50" y2="170.20" stroke="#707070" stroke-width="1"/>
<text transform="translate(636.35,167.70) scale(1,1.15)" font-size="7.60" fill="#111" stroke="#111" stroke-width="0.2" text-anchor="middle" textLength="54.70" lengthAdjust="spacingAndGlyphs">15: Delta−lysin I</text>
<g clip-path="url(#cb14)"><circle cx="636.60" cy="200.00" r="5.80" fill="none" stroke="#f1f1f1" stroke-width="0.7"/><circle cx="636.60" cy="200.00" r="11.50" fill="none" stroke="#f1f1f1" stroke-width="0.7"/><circle cx="636.60" cy="200.00" r="17.20" fill="none" stroke="#f1f1f1" stroke-width="0.7"/><circle cx="636.60" cy="200.00" r="22.90" fill="none" stroke="#f1f1f1" stroke-width="0.7"/><line x1="636.60" y1="200.00" x2="616.77" y2="188.55" stroke="#f1f1f1" stroke-width="0.7"/><line x1="636.60" y1="200.00" x2="656.43" y2="188.55" stroke="#f1f1f1" stroke-width="0.7"/><line x1="636.60" y1="200.00" x2="636.60" y2="222.90" stroke="#f1f1f1" stroke-width="0.7"/><polygon points="634.87,199.00 658.25,187.50 636.60,201.00" fill="#eef0fa" stroke="#39558C" stroke-width="1.1" stroke-linejoin="round"/><text transform="translate(607.40,177.70) scale(1,1.2)" font-size="7.9" fill="#111" stroke="#111" stroke-width="0.22">DNA</text><text transform="translate(665.20,177.70) scale(1,1.2)" font-size="8.1" fill="#111" stroke="#111" stroke-width="0.22" text-anchor="end">Membrane</text><line x1="626.70" y1="179.50" x2="665.20" y2="179.50" stroke="#333" stroke-width="0.8"/><text transform="translate(637.10,226.60) scale(1,1.2)" font-size="7.5" fill="#111" stroke="#111" stroke-width="0.22" text-anchor="middle">Translation</text><text transform="translate(626.80,185.20) scale(1,1.2)" font-size="7.9" fill="#111" stroke="#111" stroke-width="0.22">69%</text><line x1="626.80" y1="186.30" x2="642.80" y2="186.30" stroke="#333" stroke-width="0.8"/></g>
<rect x="357.70" y="230.30" width="60.30" height="69.50" fill="#fff" stroke="#707070" stroke-width="1"/>
<line x1="357.70" y1="241.10" x2="418.00" y2="241.10" stroke="#707070" stroke-width="1"/>
<text transform="translate(387.85,238.90) scale(1,1.15)" font-size="7.60" fill="#111" stroke="#111" stroke-width="0.2" text-anchor="middle" textLength="47.00" lengthAdjust="spacingAndGlyphs">16: Maximin 3</text>
<g clip-path="url(#cb15)"><circle cx="388.10" cy="271.80" r="5.80" fill="none" stroke="#f1f1f1" stroke-width="0.7"/><circle cx="388.10" cy="271.80" r="11.50" fill="none" stroke="#f1f1f1" stroke-width="0.7"/><circle cx="388.10" cy="271.80" r="17.20" fill="none" stroke="#f1f1f1" stroke-width="0.7"/><circle cx="388.10" cy="271.80" r="22.90" fill="none" stroke="#f1f1f1" stroke-width="0.7"/><line x1="388.10" y1="271.80" x2="368.27" y2="260.35" stroke="#f1f1f1" stroke-width="0.7"/><line x1="388.10" y1="271.80" x2="407.93" y2="260.35" stroke="#f1f1f1" stroke-width="0.7"/><line x1="388.10" y1="271.80" x2="388.10" y2="294.70" stroke="#f1f1f1" stroke-width="0.7"/><polygon points="385.68,270.40 388.53,271.55 388.10,272.30" fill="#3F4788" stroke="#3F4788" stroke-width="1.1" stroke-linejoin="round"/><text transform="translate(358.90,248.80) scale(1,1.2)" font-size="7.9" fill="#111" stroke="#111" stroke-width="0.22">DNA</text><text transform="translate(416.70,248.80) scale(1,1.2)" font-size="8.1" fill="#111" stroke="#111" stroke-width="0.22" text-anchor="end">Membrane</text><text transform="translate(388.60,297.60) scale(1,1.2)" font-size="7.5" fill="#111" stroke="#111" stroke-width="0.22" text-anchor="middle">Translation</text></g>
<rect x="420.00" y="230.30" width="60.30" height="69.50" fill="#fff" stroke="#707070" stroke-width="1"/>
<line x1="420.00" y1="241.10" x2="480.30" y2="241.10" stroke="#707070" stroke-width="1"/>
<text transform="translate(450.15,238.90) scale(1,1.15)" font-size="7.60" fill="#111" stroke="#111" stroke-width="0.2" text-anchor="middle" textLength="35.30" lengthAdjust="spacingAndGlyphs">17: PepG1</text>
<g clip-path="url(#cb16)"><circle cx="450.40" cy="271.80" r="5.80" fill="none" stroke="#f1f1f1" stroke-width="0.7"/><circle cx="450.40" cy="271.80" r="11.50" fill="none" stroke="#f1f1f1" stroke-width="0.7"/><circle cx="450.40" cy="271.80" r="17.20" fill="none" stroke="#f1f1f1" stroke-width="0.7"/><circle cx="450.40" cy="271.80" r="22.90" fill="none" stroke="#f1f1f1" stroke-width="0.7"/><line x1="450.40" y1="271.80" x2="430.57" y2="260.35" stroke="#f1f1f1" stroke-width="0.7"/><line x1="450.40" y1="271.80" x2="470.23" y2="260.35" stroke="#f1f1f1" stroke-width="0.7"/><line x1="450.40" y1="271.80" x2="450.40" y2="294.70" stroke="#f1f1f1" stroke-width="0.7"/><polygon points="449.97,271.55 457.07,267.95 450.40,272.30" fill="#453781" stroke="#453781" stroke-width="1.1" stroke-linejoin="round"/><text transform="translate(421.20,248.80) scale(1,1.2)" font-size="7.9" fill="#111" stroke="#111" stroke-width="0.22">DNA</text><text transform="translate(479.00,248.80) scale(1,1.2)" font-size="8.1" fill="#111" stroke="#111" stroke-width="0.22" text-anchor="end">Membrane</text><line x1="440.50" y1="250.60" x2="479.00" y2="250.60" stroke="#333" stroke-width="0.8"/><text transform="translate(450.90,297.60) scale(1,1.2)" font-size="7.5" fill="#111" stroke="#111" stroke-width="0.22" text-anchor="middle">Translation</text></g>
<rect x="482.20" y="230.30" width="60.30" height="69.50" fill="#fff" stroke="#707070" stroke-width="1"/>
<line x1="482.20" y1="241.10" x2="542.50" y2="241.10" stroke="#707070" stroke-width="1"/>
<text transform="translate(512.35,238.90) scale(1,1.15)" font-size="7.60" fill="#111" stroke="#111" stroke-width="0.2" text-anchor="middle" textLength="54.20" lengthAdjust="spacingAndGlyphs">18: Oxyopinin 2b</text>
<g clip-path="url(#cb17)"><circle cx="512.60" cy="271.80" r="5.80" fill="none" stroke="#f1f1f1" stroke-width="0.7"/><circle cx="512.60" cy="271.80" r="11.50" fill="none" stroke="#f1f1f1" stroke-width="0.7"/><circle cx="512.60" cy="271.80" r="17.20" fill="none" stroke="#f1f1f1" stroke-width="0.7"/><circle cx="512.60" cy="271.80" r="22.90" fill="none" stroke="#f1f1f1" stroke-width="0.7"/><line x1="512.60" y1="271.80" x2="492.77" y2="260.35" stroke="#f1f1f1" stroke-width="0.7"/><line x1="512.60" y1="271.80" x2="532.43" y2="260.35" stroke="#f1f1f1" stroke-width="0.7"/><line x1="512.60" y1="271.80" x2="512.60" y2="294.70" stroke="#f1f1f1" stroke-width="0.7"/><polygon points="510.35,270.50 514.85,270.50 512.60,273.30" fill="#482677" stroke="#482677" stroke-width="1.1" stroke-linejoin="round"/><text transform="translate(483.40,248.80) scale(1,1.2)" font-size="7.9" fill="#111" stroke="#111" stroke-width="0.22">DNA</text><text transform="translate(541.20,248.80) scale(1,1.2)" font-size="8.1" fill="#111" stroke="#111" stroke-width="0.22" text-anchor="end">Membrane</text><line x1="502.70" y1="250.60" x2="541.20" y2="250.60" stroke="#333" stroke-width="0.8"/><text transform="translate(513.10,297.60) scale(1,1.2)" font-size="7.5" fill="#111" stroke="#111" stroke-width="0.22" text-anchor="middle">Translation</text></g>
<rect x="544.20" y="230.30" width="60.30" height="69.50" fill="#fff" stroke="#707070" stroke-width="1"/>
<line x1="544.20" y1="241.10" x2="604.50" y2="241.10" stroke="#707070" stroke-width="1"/>
<text transform="translate(574.35,238.90) scale(1,1.15)" font-size="7.30" fill="#111" stroke="#111" stroke-width="0.2" text-anchor="middle" textLength="57.00" lengthAdjust="spacingAndGlyphs">19: Cycloviolacin H2</text>
<g clip-path="url(#cb18)"><circle cx="574.60" cy="271.80" r="5.80" fill="none" stroke="#f1f1f1" stroke-width="0.7"/><circle cx="574.60" cy="271.80" r="11.50" fill="none" stroke="#f1f1f1" stroke-width="0.7"/><circle cx="574.60" cy="271.80" r="17.20" fill="none" stroke="#f1f1f1" stroke-width="0.7"/><circle cx="574.60" cy="271.80" r="22.90" fill="none" stroke="#f1f1f1" stroke-width="0.7"/><line x1="574.60" y1="271.80" x2="554.77" y2="260.35" stroke="#f1f1f1" stroke-width="0.7"/><line x1="574.60" y1="271.80" x2="594.43" y2="260.35" stroke="#f1f1f1" stroke-width="0.7"/><line x1="574.60" y1="271.80" x2="574.60" y2="294.70" stroke="#f1f1f1" stroke-width="0.7"/><polygon points="555.55,260.80 575.90,271.05 574.60,274.30" fill="#d9c6e0" stroke="#481568" stroke-width="1.1" stroke-linejoin="round"/><text transform="translate(545.40,248.80) scale(1,1.2)" font-size="7.9" fill="#111" stroke="#111" stroke-width="0.22">DNA</text><text transform="translate(561.80,248.50) scale(1,1.2)" font-size="7.2" fill="#111">*</text><text transform="translate(603.20,248.80) scale(1,1.2)" font-size="8.1" fill="#111" stroke="#111" stroke-width="0.22" text-anchor="end">Membrane</text><text transform="translate(575.10,297.60) scale(1,1.2)" font-size="7.5" fill="#111" stroke="#111" stroke-width="0.22" text-anchor="middle">Translation</text></g>
<rect x="606.20" y="230.30" width="60.30" height="69.50" fill="#fff" stroke="#707070" stroke-width="1"/>
<line x1="606.20" y1="241.10" x2="666.50" y2="241.10" stroke="#707070" stroke-width="1"/>
<text transform="translate(636.35,238.90) scale(1,1.15)" font-size="7.60" fill="#111" stroke="#111" stroke-width="0.2" text-anchor="middle" textLength="43.70" lengthAdjust="spacingAndGlyphs">20: HFIAP−1</text>
<g clip-path="url(#cb19)"><circle cx="636.60" cy="271.80" r="5.80" fill="none" stroke="#f1f1f1" stroke-width="0.7"/><circle cx="636.60" cy="271.80" r="11.50" fill="none" stroke="#f1f1f1" stroke-width="0.7"/><circle cx="636.60" cy="271.80" r="17.20" fill="none" stroke="#f1f1f1" stroke-width="0.7"/><circle cx="636.60" cy="271.80" r="22.90" fill="none" stroke="#f1f1f1" stroke-width="0.7"/><line x1="636.60" y1="271.80" x2="616.77" y2="260.35" stroke="#f1f1f1" stroke-width="0.7"/><line x1="636.60" y1="271.80" x2="656.43" y2="260.35" stroke="#f1f1f1" stroke-width="0.7"/><line x1="636.60" y1="271.80" x2="636.60" y2="294.70" stroke="#f1f1f1" stroke-width="0.7"/><polygon points="622.31,263.55 640.24,269.70 636.60,275.20" fill="#f6c3d6" stroke="#440154" stroke-width="1.1" stroke-linejoin="round"/><text transform="translate(607.40,248.80) scale(1,1.2)" font-size="7.9" fill="#111" stroke="#111" stroke-width="0.22">DNA</text><text transform="translate(623.80,248.50) scale(1,1.2)" font-size="7.2" fill="#111">*</text><text transform="translate(665.20,248.80) scale(1,1.2)" font-size="8.1" fill="#111" stroke="#111" stroke-width="0.22" text-anchor="end">Membrane</text><line x1="626.70" y1="250.60" x2="665.20" y2="250.60" stroke="#333" stroke-width="0.8"/><text transform="translate(637.10,297.60) scale(1,1.2)" font-size="7.5" fill="#111" stroke="#111" stroke-width="0.22" text-anchor="middle">Translation</text><text transform="translate(657.25,297.60) scale(1,1.2)" font-size="7.5" fill="#111">*</text></g>
</svg></body></html>
